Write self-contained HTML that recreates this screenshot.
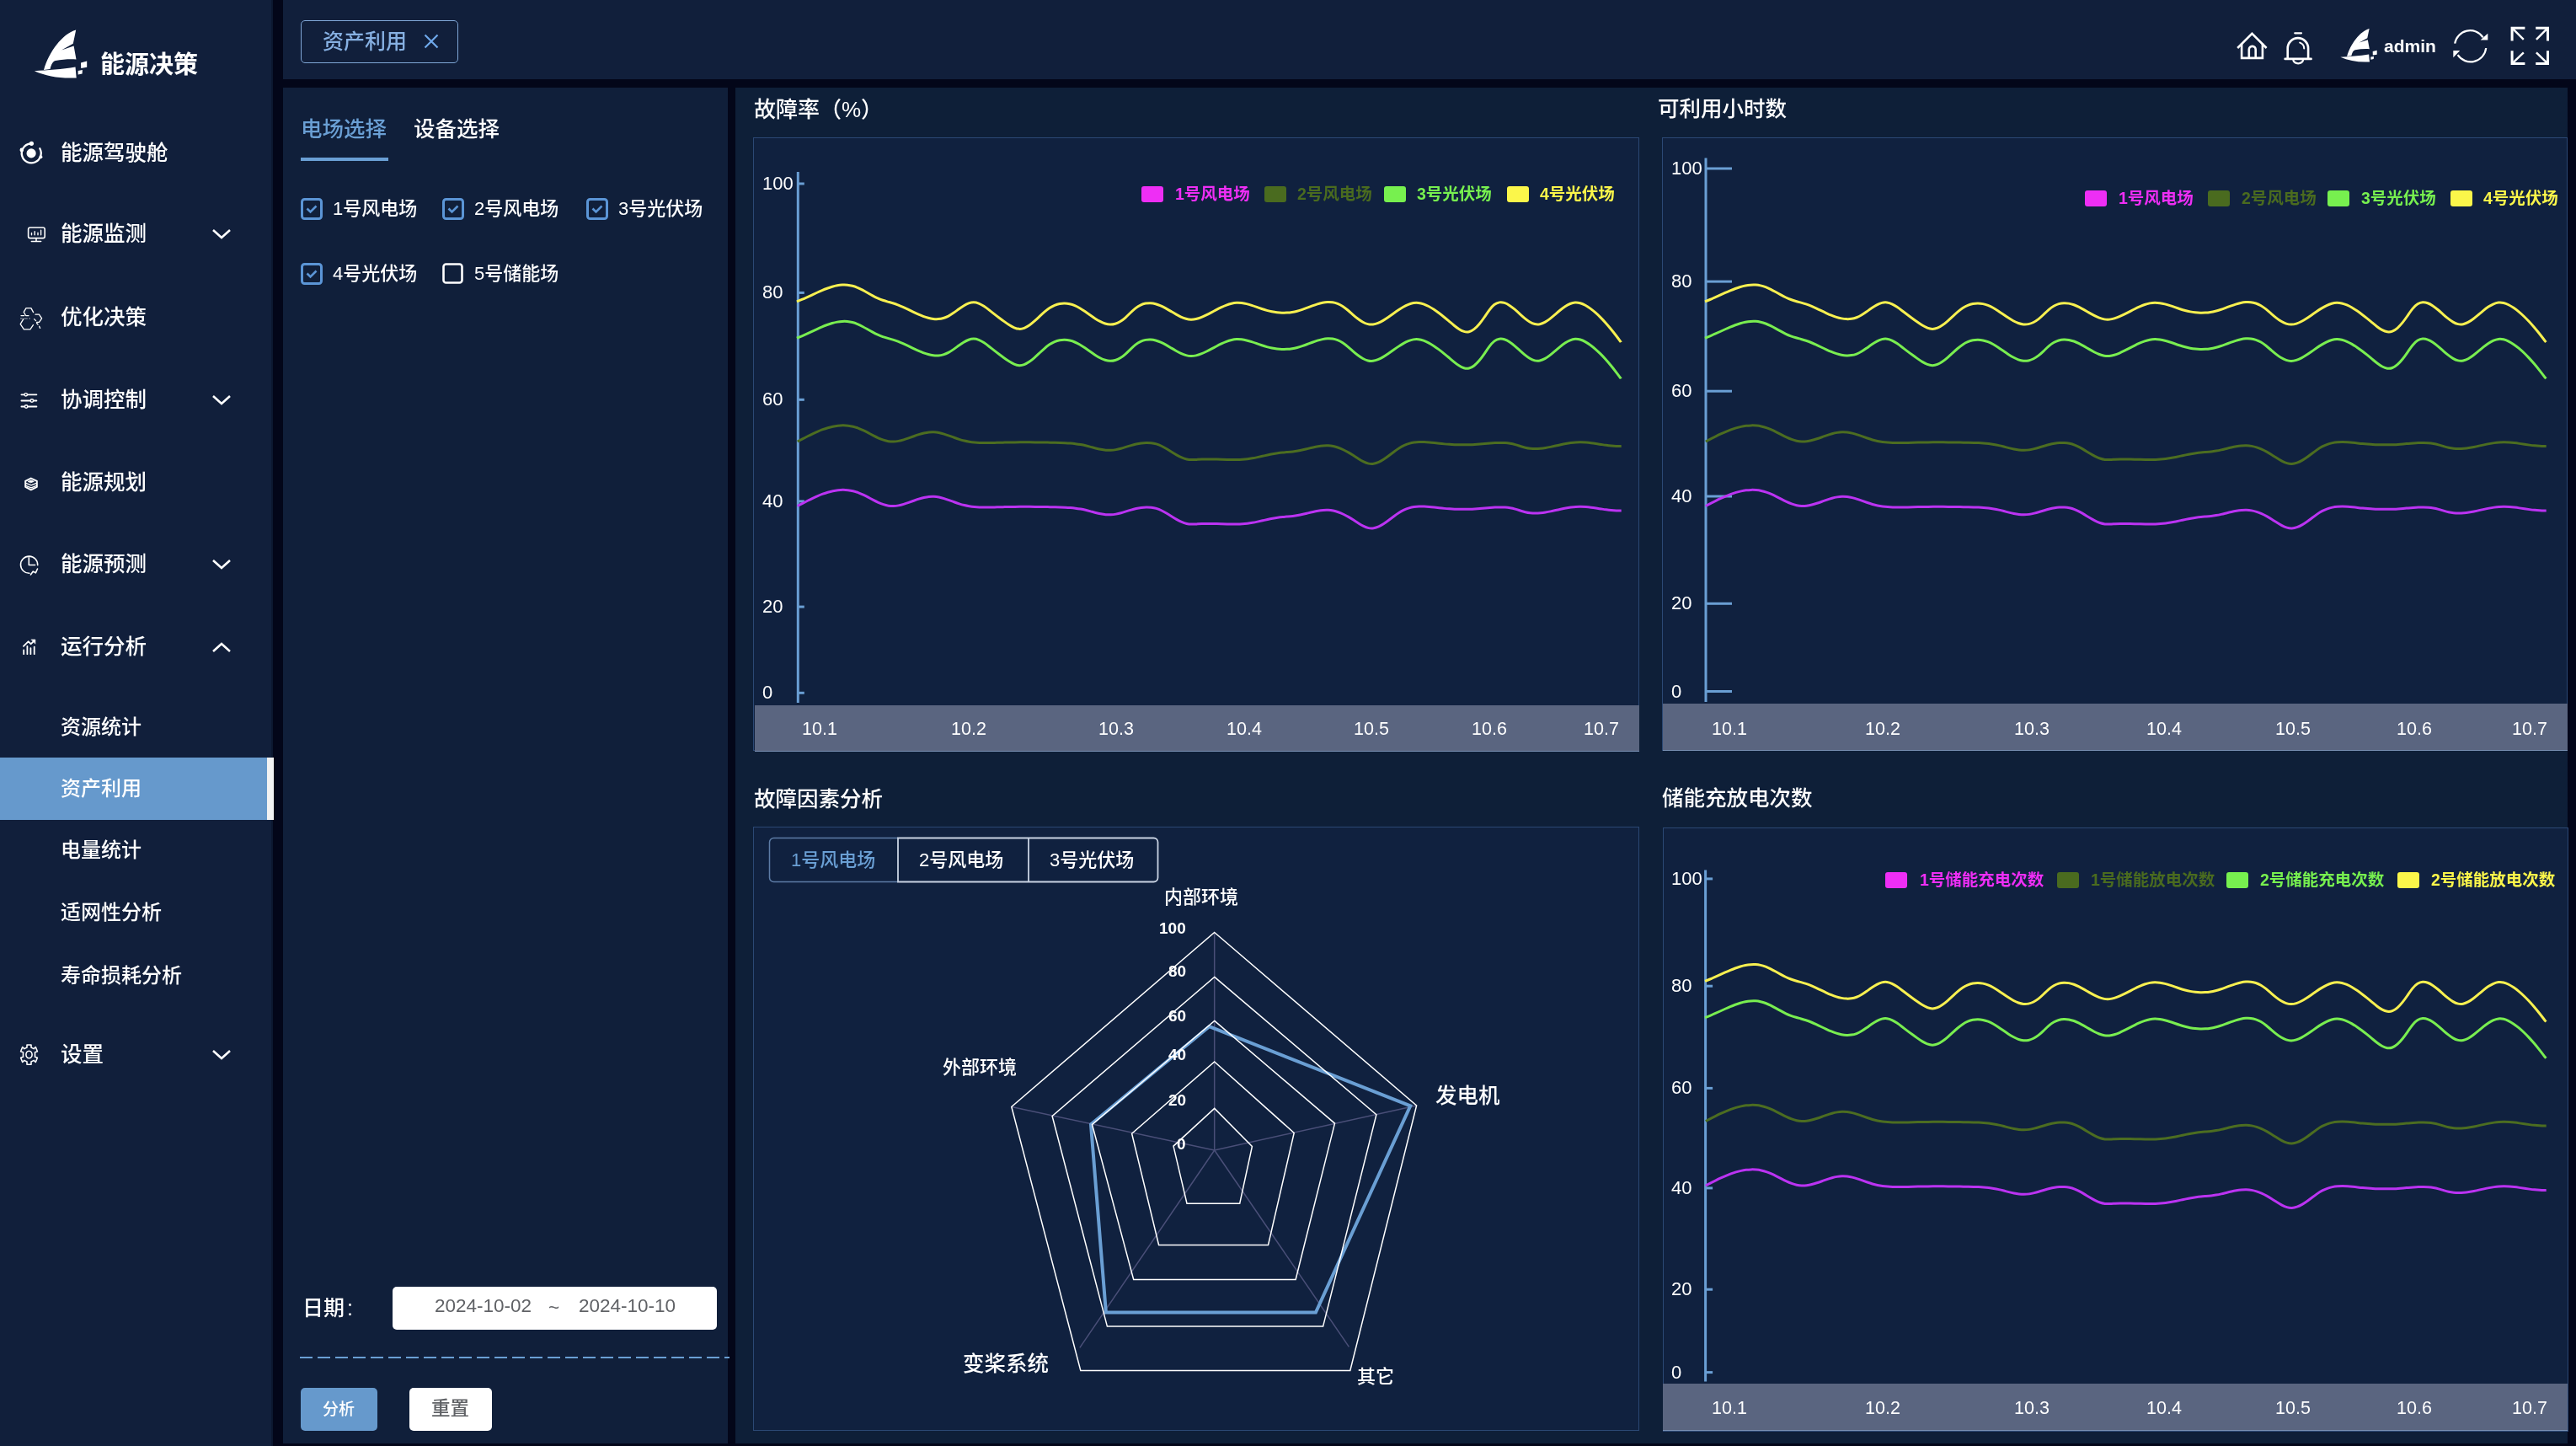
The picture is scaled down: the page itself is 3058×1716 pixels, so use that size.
<!DOCTYPE html>
<html lang="zh-CN"><head><meta charset="utf-8"><title>能源决策 - 资产利用</title>
<style>
*{margin:0;padding:0;box-sizing:border-box}
html,body{width:3058px;height:1716px;overflow:hidden;background:#030619}
body{position:relative;font-family:"Liberation Sans","Noto Sans CJK SC",sans-serif;color:#fff}
.a{position:absolute;white-space:nowrap}
body>div.a{will-change:transform}
</style></head><body>
<div class="a" style="left:0px;top:0px;width:324px;height:1716px;background:#111f3b;border-right:2.5px solid #0c1830"></div>
<div class="a" style="left:336px;top:0px;width:2722px;height:94px;background:#111f3b"></div>
<div class="a" style="left:336px;top:104px;width:528px;height:1609px;background:#101f3a"></div>
<div class="a" style="left:873px;top:104px;width:2175px;height:1609px;background:#0e1f38"></div>
<svg class="a" style="left:0;top:0" width="324" height="110" viewBox="0 0 324 110">
<path fill="#fff" d="M90.2,35.6 C74,40 58,62 52,83 L59.5,82 C61,76 63,72.5 66,72 C74,70.5 83,70 90.5,70.5 L87.6,54.6 L73,59.5 L86.8,51.8 Z"/>
<path fill="#fff" d="M40.8,84.2 C56,83 74,82.5 89.5,79.5 L90.7,92.4 C72,93.5 55,90.5 40.8,84.2 Z"/>
<path fill="#fff" d="M96,74.5 L103.2,72.6 L103.2,79.8 L96.2,81 Z"/>
<path fill="#fff" d="M92.6,84 L97.9,83 L97.6,87.6 L92.6,88.6 Z"/>
</svg>
<div class="a" style="left:118.5px;top:62.5px;font-size:29px;line-height:29px;color:#fff;font-weight:bold;">能源决策</div>
<div class="a" style="left:72.3px;top:169.2px;font-size:25.5px;line-height:25.5px;color:#fff;font-weight:500;">能源驾驶舱</div>
<div class="a" style="left:72.3px;top:265.2px;font-size:25.5px;line-height:25.5px;color:#fff;font-weight:500;">能源监测</div>
<svg class="a" style="left:250px;top:268.0px" width="26" height="20"><path d="M3,5 L13,14 L23,5" fill="none" stroke="#fff" stroke-width="2.6"/></svg>
<div class="a" style="left:72.3px;top:363.9px;font-size:25.5px;line-height:25.5px;color:#fff;font-weight:500;">优化决策</div>
<div class="a" style="left:72.3px;top:461.9px;font-size:25.5px;line-height:25.5px;color:#fff;font-weight:500;">协调控制</div>
<svg class="a" style="left:250px;top:464.7px" width="26" height="20"><path d="M3,5 L13,14 L23,5" fill="none" stroke="#fff" stroke-width="2.6"/></svg>
<div class="a" style="left:72.3px;top:559.9px;font-size:25.5px;line-height:25.5px;color:#fff;font-weight:500;">能源规划</div>
<div class="a" style="left:72.3px;top:657.0px;font-size:25.5px;line-height:25.5px;color:#fff;font-weight:500;">能源预测</div>
<svg class="a" style="left:250px;top:659.7px" width="26" height="20"><path d="M3,5 L13,14 L23,5" fill="none" stroke="#fff" stroke-width="2.6"/></svg>
<div class="a" style="left:72.3px;top:755.1px;font-size:25.5px;line-height:25.5px;color:#fff;font-weight:500;">运行分析</div>
<svg class="a" style="left:250px;top:757.9px" width="26" height="20"><path d="M3,15 L13,6 L23,15" fill="none" stroke="#fff" stroke-width="2.6"/></svg>
<div class="a" style="left:72.3px;top:1238.8px;font-size:25.5px;line-height:25.5px;color:#fff;font-weight:500;">设置</div>
<svg class="a" style="left:250px;top:1241.6px" width="26" height="20"><path d="M3,5 L13,14 L23,5" fill="none" stroke="#fff" stroke-width="2.6"/></svg>
<div class="a" style="left:0px;top:898.5px;width:317px;height:74.3px;background:#6699cc"></div>
<div class="a" style="left:317px;top:898.5px;width:8px;height:74.3px;background:#f2f2f2"></div>
<div class="a" style="left:71.8px;top:850.5px;font-size:24px;line-height:24px;color:#fff;font-weight:500;">资源统计</div>
<div class="a" style="left:71.8px;top:924.0px;font-size:24px;line-height:24px;color:#fff;font-weight:500;">资产利用</div>
<div class="a" style="left:71.8px;top:997.0px;font-size:24px;line-height:24px;color:#fff;font-weight:500;">电量统计</div>
<div class="a" style="left:71.8px;top:1071.3px;font-size:24px;line-height:24px;color:#fff;font-weight:500;">适网性分析</div>
<div class="a" style="left:71.8px;top:1146.3px;font-size:24px;line-height:24px;color:#fff;font-weight:500;">寿命损耗分析</div>
<svg class="a" style="left:0;top:0" width="80" height="1300" viewBox="0 0 80 1300" fill="none" stroke="#fff" stroke-width="2" stroke-linecap="round" stroke-linejoin="round"><path d="M47.3,176.3 A11.5,11.5 0 1 1 35.6,170.5" stroke-width="2.3"/><circle cx="37.1" cy="181.9" r="5.6" fill="#fff" stroke="none"/><circle cx="37.4" cy="170.3" r="2.6" fill="#fff" stroke="none"/><circle cx="25.8" cy="177.9" r="2.3" fill="#fff" stroke="none"/><circle cx="48.4" cy="186.3" r="2" fill="#fff" stroke="none"/><rect x="33.6" y="270" width="19.6" height="12.6" rx="2.2" stroke-width="1.6"/><path d="M37.5,278.8v-2.4M41.2,278.8v-4.2M45,278.8v-2.6M48.6,278.8v-5.6" stroke-width="1.4"/><path d="M37.4,286.5h11.2M43,283v3.5" stroke-width="1.6"/><path d="M39.6,370.6 L36.9,365.6 H31 L28.2,370.3 L30.4,374.3 M25,374.6 H28.6 M30.8,374.6 H34" stroke-width="1.3"/><path d="M42,373.2 H46.4 L49.6,377.8 L46.5,382.4 H43.5 M40.6,378.6 L42.6,380.6 M43.6,383.5 L45,385 M46.6,387.3 L47.6,389.4" stroke-width="1.3"/><path d="M27.8,378.6 L24.2,384.6 L28.4,390.8 H35.9 L39.4,385.6" stroke-width="1.3"/><path d="M24.4,378 H26.4 M29,378 H32.4 M34.6,378 H35.6" stroke-width="1" stroke-opacity="0.6"/><path d="M25.4,468.3H43.4M25.4,475.5H43.4M25.4,482.5H43.4" stroke-width="1.8"/><circle cx="30.7" cy="468.3" r="1.7" fill="#111f3b" stroke-width="1.4"/><circle cx="37.9" cy="475.5" r="1.7" fill="#111f3b" stroke-width="1.4"/><circle cx="31.1" cy="482.5" r="1.7" fill="#111f3b" stroke-width="1.4"/><path d="M36.8,567.6 L43.8,570.9 V577.8 L36.8,581.3 L30.2,577.8 V570.9 Z" stroke-width="2"/><path d="M31.3,573.6 L37.1,575.9 L42.6,573.6 M31.3,576.6 L37.1,578.8 L42.6,576.6" stroke-width="1.3"/><path d="M33.4,571.3 L36.9,569.9 L40.4,571.3 L36.9,572.7 Z" fill="#fff" stroke-width="0.8"/><path d="M44.7,670.6 A10.1,10.1 0 1 0 34.9,680.3" stroke-width="1.6"/><path d="M34.3,661.8 V670.5 H41.6" stroke-width="1.6"/><path d="M36.4,682 L39.3,678.1 L42.3,679.8 L44.5,675" stroke-width="1.6"/><path d="M28.2,776.2v-4.8M32.4,776.2v-9.2M36.4,776.2v-7M40.7,776.2v-8.6" stroke-width="1.8"/><path d="M27.9,766.9 L33.5,761.3 L36.8,764.2 L40.6,760.4" stroke-width="1.8"/><path d="M37.2,759 H41.9 V763.8 Z" fill="#fff" stroke-width="0.6"/><ellipse cx="34.5" cy="1251.5" rx="3.6" ry="4.3" stroke-width="1.6"/><path d="M32,1240 H37 V1243 L40.2,1244.6 L42.3,1242.5 L44.4,1247.8 L41.5,1248.8 V1254.2 L44.4,1255.2 L42.3,1260.5 L40.2,1258.4 L37,1260 V1263.2 H32 V1260 L28.8,1258.4 L26.7,1260.5 L24.6,1255.2 L27.5,1254.2 V1248.8 L24.6,1247.8 L26.7,1242.5 L28.8,1244.6 L32,1243 Z" stroke-width="1.6"/></svg>
<div class="a" style="left:357px;top:24px;width:187px;height:51px;border:1.5px solid #7fa6d6;border-radius:5px"></div>
<div class="a" style="left:383.2px;top:36.7px;font-size:25px;line-height:25px;color:#86b0e2;font-weight:500;">资产利用</div>
<svg class="a" style="left:500px;top:37px" width="24" height="24"><path d="M4.5,4.5 L19.5,19.5 M19.5,4.5 L4.5,19.5" stroke="#6fa8ea" stroke-width="2.2"/></svg>
<svg class="a" style="left:2640px;top:20px" width="418" height="70" viewBox="2640 20 418 70" fill="none" stroke="#fff" stroke-width="2.6" stroke-linejoin="miter"><path d="M2656.2,57 L2673.4,39.9 L2690.6,57"/><path d="M2661.1,51.5 V68.9 H2685.9 V51.5"/><path d="M2669.8,68.9 V58.8 a3.95,3.95 0 0 1 7.9,0 V68.9"/><path d="M2724.2,39.3 h7.8" stroke-width="2.2" stroke-linecap="round"/><path d="M2712.6,69.9 h31" stroke-linecap="round"/><path d="M2715.7,69 V57.3 a12.2,12.2 0 0 1 24.4,0 V69"/><path d="M2722.4,71 a5.8,4.3 0 0 0 11.6,0" stroke-width="2.3"/><path d="M2730.2,50.6 a7.3,7.3 0 0 1 5,7" stroke-width="2" stroke-linecap="round"/></svg>
<svg class="a" style="left:2775px;top:30px" width="50" height="46" viewBox="36 31 72 64">
<path fill="#fff" d="M90.2,35.6 C74,40 58,62 52,83 L59.5,82 C61,76 63,72.5 66,72 C74,70.5 83,70 90.5,70.5 L87.6,54.6 L73,59.5 L86.8,51.8 Z"/>
<path fill="#fff" d="M40.8,84.2 C56,83 74,82.5 89.5,79.5 L90.7,92.4 C72,93.5 55,90.5 40.8,84.2 Z"/>
<path fill="#fff" d="M96,74.5 L103.2,72.6 L103.2,79.8 L96.2,81 Z"/>
<path fill="#fff" d="M92.6,84 L97.9,83 L97.6,87.6 L92.6,88.6 Z"/>
</svg>
<div class="a" style="left:2829.8px;top:44.3px;font-size:21px;line-height:21px;color:#fff;font-weight:bold;">admin</div>
<svg class="a" style="left:2900px;top:25px" width="150" height="60" viewBox="2900 25 150 60" fill="none" stroke="#fff" stroke-width="2.2">
<path d="M2914.2,51.6 A18.4,18.4 0 0 1 2947.6,44.3"/><path d="M2951.2,57 A18.4,18.4 0 0 1 2917.6,65.2"/>
<path d="M2944.6,47.6 L2953.3,47.6 L2953.3,39.8 Z" fill="#fff" stroke="none"/>
<path d="M2912.3,60 L2920.2,60 L2912.3,68.3 Z" fill="#fff" stroke="none"/>
<g stroke-width="3" stroke-linecap="butt"><path d="M2982.1,48.6 V33.2 H2997.4"/><path d="M2983,34.1 L2995.8,46.8" stroke-width="2.4"/>
<path d="M3024.5,48.6 V33.2 H3010.2"/><path d="M3023.6,34.1 L3010.9,46.8" stroke-width="2.4"/>
<path d="M2982.1,60.2 V75.5 H2997.4"/><path d="M2983,74.6 L2995.8,62.3" stroke-width="2.4"/>
<path d="M3024.5,60.2 V75.5 H3010.2"/><path d="M3023.6,74.6 L3010.9,62.3" stroke-width="2.4"/></g>
</svg>
<div class="a" style="left:357.4px;top:141.2px;font-size:25.5px;line-height:25.5px;color:#6a9fd4;font-weight:500;">电场选择</div>
<div class="a" style="left:491.2px;top:141.2px;font-size:25.5px;line-height:25.5px;color:#fff;font-weight:500;">设备选择</div>
<div class="a" style="left:357px;top:187px;width:104px;height:4px;background:#6a9fd4"></div>
<svg class="a" style="left:357px;top:235px" width="26" height="26"><rect x="1.5" y="1.5" width="23" height="23" rx="3" fill="none" stroke="#5b95d6" stroke-width="3"/><path d="M7.5,12.5 L11.5,16.5 L18.5,9.5" fill="none" stroke="#5b95d6" stroke-width="2.6"/></svg>
<div class="a" style="left:394.5px;top:236.8px;font-size:22px;line-height:22px;color:#fff;font-weight:500;">1号风电场</div>
<svg class="a" style="left:525px;top:235px" width="26" height="26"><rect x="1.5" y="1.5" width="23" height="23" rx="3" fill="none" stroke="#5b95d6" stroke-width="3"/><path d="M7.5,12.5 L11.5,16.5 L18.5,9.5" fill="none" stroke="#5b95d6" stroke-width="2.6"/></svg>
<div class="a" style="left:562.5px;top:236.8px;font-size:22px;line-height:22px;color:#fff;font-weight:500;">2号风电场</div>
<svg class="a" style="left:696px;top:235px" width="26" height="26"><rect x="1.5" y="1.5" width="23" height="23" rx="3" fill="none" stroke="#5b95d6" stroke-width="3"/><path d="M7.5,12.5 L11.5,16.5 L18.5,9.5" fill="none" stroke="#5b95d6" stroke-width="2.6"/></svg>
<div class="a" style="left:733.5px;top:236.8px;font-size:22px;line-height:22px;color:#fff;font-weight:500;">3号光伏场</div>
<svg class="a" style="left:357px;top:312px" width="26" height="26"><rect x="1.5" y="1.5" width="23" height="23" rx="3" fill="none" stroke="#5b95d6" stroke-width="3"/><path d="M7.5,12.5 L11.5,16.5 L18.5,9.5" fill="none" stroke="#5b95d6" stroke-width="2.6"/></svg>
<div class="a" style="left:394.5px;top:313.8px;font-size:22px;line-height:22px;color:#fff;font-weight:500;">4号光伏场</div>
<svg class="a" style="left:525px;top:312px" width="26" height="26"><rect x="1.5" y="1.5" width="22" height="22" rx="3" fill="none" stroke="#fff" stroke-width="2.6"/></svg>
<div class="a" style="left:562.5px;top:313.8px;font-size:22px;line-height:22px;color:#fff;font-weight:500;">5号储能场</div>
<div class="a" style="left:359.4px;top:1539.5px;font-size:25px;line-height:25px;color:#fff;font-weight:500;">日期<span style='margin-left:3px'>:</span></div>
<div class="a" style="left:466px;top:1527px;width:385px;height:51px;background:#fff;border-radius:5px"></div>
<div class="a" style="left:516.0px;top:1539.2px;font-size:22.5px;line-height:22.5px;color:#606266;font-weight:500;">2024-10-02</div>
<div class="a" style="left:650.7px;top:1541.2px;font-size:22.5px;line-height:22.5px;color:#606266;font-weight:500;">~</div>
<div class="a" style="left:686.6px;top:1539.2px;font-size:22.5px;line-height:22.5px;color:#606266;font-weight:500;">2024-10-10</div>
<svg class="a" style="left:336px;top:1605px" width="530" height="10"><line x1="20" y1="6" x2="530" y2="6" stroke="#6a9fd4" stroke-width="2" stroke-dasharray="15,6"/></svg>
<div class="a" style="left:357px;top:1647px;width:91px;height:51px;background:#6699cc;border-radius:5px"></div>
<div class="a" style="left:382.5px;top:1662.5px;font-size:19px;line-height:19px;color:#fff;font-weight:500;">分析</div>
<div class="a" style="left:486px;top:1647px;width:98px;height:51px;background:#fff;border-radius:5px"></div>
<div class="a" style="left:512.1px;top:1661.2px;font-size:22.5px;line-height:22.5px;color:#606266;font-weight:500;">重置</div>
<div class="a" style="left:894.6px;top:117.2px;font-size:26px;line-height:26px;color:#fff;font-weight:500;">故障率（%）</div>
<div class="a" style="left:894px;top:163px;width:1052px;height:728px;background:#10213f;border:1px solid #2b4874"></div>
<div class="a" style="left:895.5px;top:836.5px;width:1050.0px;height:54.5px;background:#5a6580;border-bottom:1.5px solid #7990b3"></div>
<div class="a" style="left:1354.7px;top:220.8px;width:26px;height:19px;background:#ee2ef5;border-radius:3px"></div>
<div class="a" style="left:1394.6px;top:220.9px;font-size:19.5px;line-height:19.5px;color:#ee2ef5;font-weight:bold;">1号风电场</div>
<div class="a" style="left:1501px;top:220.8px;width:26px;height:19px;background:#4a6b1f;border-radius:3px"></div>
<div class="a" style="left:1540.0px;top:220.9px;font-size:19.5px;line-height:19.5px;color:#4a6b1f;font-weight:bold;">2号风电场</div>
<div class="a" style="left:1642.6px;top:220.8px;width:26px;height:19px;background:#77f04f;border-radius:3px"></div>
<div class="a" style="left:1682.0px;top:220.9px;font-size:19.5px;line-height:19.5px;color:#77f04f;font-weight:bold;">3号光伏场</div>
<div class="a" style="left:1788.7px;top:220.8px;width:26px;height:19px;background:#fbf64a;border-radius:3px"></div>
<div class="a" style="left:1828.0px;top:220.9px;font-size:19.5px;line-height:19.5px;color:#fbf64a;font-weight:bold;">4号光伏场</div>
<div class="a" style="left:905.0px;top:207.0px;font-size:22px;line-height:22px;color:#fff;font-weight:500;">100</div>
<div class="a" style="left:905.0px;top:336.4px;font-size:22px;line-height:22px;color:#fff;font-weight:500;">80</div>
<div class="a" style="left:905.0px;top:463.3px;font-size:22px;line-height:22px;color:#fff;font-weight:500;">60</div>
<div class="a" style="left:905.0px;top:583.9px;font-size:22px;line-height:22px;color:#fff;font-weight:500;">40</div>
<div class="a" style="left:905.0px;top:709.1px;font-size:22px;line-height:22px;color:#fff;font-weight:500;">20</div>
<div class="a" style="left:905.0px;top:811.3px;font-size:22px;line-height:22px;color:#fff;font-weight:500;">0</div>
<div class="a" style="left:952.4px;top:855.2px;font-size:21.5px;line-height:21.5px;color:#fff;font-weight:500;">10.1</div>
<div class="a" style="left:1129.3px;top:855.2px;font-size:21.5px;line-height:21.5px;color:#fff;font-weight:500;">10.2</div>
<div class="a" style="left:1303.8px;top:855.2px;font-size:21.5px;line-height:21.5px;color:#fff;font-weight:500;">10.3</div>
<div class="a" style="left:1456.2px;top:855.2px;font-size:21.5px;line-height:21.5px;color:#fff;font-weight:500;">10.4</div>
<div class="a" style="left:1607.2px;top:855.2px;font-size:21.5px;line-height:21.5px;color:#fff;font-weight:500;">10.5</div>
<div class="a" style="left:1747.4px;top:855.2px;font-size:21.5px;line-height:21.5px;color:#fff;font-weight:500;">10.6</div>
<div class="a" style="left:1880.4px;top:855.2px;font-size:21.5px;line-height:21.5px;color:#fff;font-weight:500;">10.7</div>
<div class="a" style="left:1968.0px;top:117.2px;font-size:25.5px;line-height:25.5px;color:#fff;font-weight:500;">可利用小时数</div>
<div class="a" style="left:1973px;top:163px;width:1075px;height:728px;background:#10213f;border:1px solid #2b4874"></div>
<div class="a" style="left:1973.8px;top:835px;width:1073.7px;height:56px;background:#5a6580;border-bottom:1.5px solid #7990b3"></div>
<div class="a" style="left:2474.6px;top:226.2px;width:26px;height:19px;background:#ee2ef5;border-radius:3px"></div>
<div class="a" style="left:2514.7px;top:226.2px;font-size:19.5px;line-height:19.5px;color:#ee2ef5;font-weight:bold;">1号风电场</div>
<div class="a" style="left:2620.9px;top:226.2px;width:26px;height:19px;background:#4a6b1f;border-radius:3px"></div>
<div class="a" style="left:2660.5px;top:226.2px;font-size:19.5px;line-height:19.5px;color:#4a6b1f;font-weight:bold;">2号风电场</div>
<div class="a" style="left:2762.9px;top:226.2px;width:26px;height:19px;background:#77f04f;border-radius:3px"></div>
<div class="a" style="left:2802.5px;top:226.2px;font-size:19.5px;line-height:19.5px;color:#77f04f;font-weight:bold;">3号光伏场</div>
<div class="a" style="left:2909.2px;top:226.2px;width:26px;height:19px;background:#fbf64a;border-radius:3px"></div>
<div class="a" style="left:2947.6px;top:226.2px;font-size:19.5px;line-height:19.5px;color:#fbf64a;font-weight:bold;">4号光伏场</div>
<div class="a" style="left:1984.0px;top:189.0px;font-size:22px;line-height:22px;color:#fff;font-weight:500;">100</div>
<div class="a" style="left:1984.0px;top:323.1px;font-size:22px;line-height:22px;color:#fff;font-weight:500;">80</div>
<div class="a" style="left:1984.0px;top:453.2px;font-size:22px;line-height:22px;color:#fff;font-weight:500;">60</div>
<div class="a" style="left:1984.0px;top:578.0px;font-size:22px;line-height:22px;color:#fff;font-weight:500;">40</div>
<div class="a" style="left:1984.0px;top:705.3px;font-size:22px;line-height:22px;color:#fff;font-weight:500;">20</div>
<div class="a" style="left:1984.0px;top:809.5px;font-size:22px;line-height:22px;color:#fff;font-weight:500;">0</div>
<div class="a" style="left:2032.1px;top:854.8px;font-size:21.5px;line-height:21.5px;color:#fff;font-weight:500;">10.1</div>
<div class="a" style="left:2213.6px;top:854.8px;font-size:21.5px;line-height:21.5px;color:#fff;font-weight:500;">10.2</div>
<div class="a" style="left:2390.8px;top:854.8px;font-size:21.5px;line-height:21.5px;color:#fff;font-weight:500;">10.3</div>
<div class="a" style="left:2547.7px;top:854.8px;font-size:21.5px;line-height:21.5px;color:#fff;font-weight:500;">10.4</div>
<div class="a" style="left:2701.4px;top:854.8px;font-size:21.5px;line-height:21.5px;color:#fff;font-weight:500;">10.5</div>
<div class="a" style="left:2845.3px;top:854.8px;font-size:21.5px;line-height:21.5px;color:#fff;font-weight:500;">10.6</div>
<div class="a" style="left:2981.5px;top:854.8px;font-size:21.5px;line-height:21.5px;color:#fff;font-weight:500;">10.7</div>
<div class="a" style="left:894.9px;top:935.5px;font-size:25.5px;line-height:25.5px;color:#fff;font-weight:500;">故障因素分析</div>
<div class="a" style="left:894px;top:981px;width:1052px;height:717px;background:#10213f;border:1px solid #2b4874"></div>
<div class="a" style="left:1973.0px;top:935.1px;font-size:25.5px;line-height:25.5px;color:#fff;font-weight:500;">储能充放电次数</div>
<div class="a" style="left:1973.5px;top:981.5px;width:1074.5px;height:716.5px;background:#10213f;border:1px solid #2b4874"></div>
<div class="a" style="left:1973.8px;top:1641.6px;width:1073.7px;height:55.90000000000009px;background:#5a6580;border-bottom:1.5px solid #7990b3"></div>
<div class="a" style="left:2237.9px;top:1034.8px;width:26px;height:19px;background:#ee2ef5;border-radius:3px"></div>
<div class="a" style="left:2278.5px;top:1034.8px;font-size:19.5px;line-height:19.5px;color:#ee2ef5;font-weight:bold;">1号储能充电次数</div>
<div class="a" style="left:2441.9px;top:1034.8px;width:26px;height:19px;background:#4a6b1f;border-radius:3px"></div>
<div class="a" style="left:2481.9px;top:1034.8px;font-size:19.5px;line-height:19.5px;color:#4a6b1f;font-weight:bold;">1号储能放电次数</div>
<div class="a" style="left:2642.9px;top:1034.8px;width:26px;height:19px;background:#77f04f;border-radius:3px"></div>
<div class="a" style="left:2682.6px;top:1034.8px;font-size:19.5px;line-height:19.5px;color:#77f04f;font-weight:bold;">2号储能充电次数</div>
<div class="a" style="left:2846.2px;top:1034.8px;width:26px;height:19px;background:#fbf64a;border-radius:3px"></div>
<div class="a" style="left:2885.9px;top:1034.8px;font-size:19.5px;line-height:19.5px;color:#fbf64a;font-weight:bold;">2号储能放电次数</div>
<div class="a" style="left:1984.0px;top:1031.9px;font-size:22px;line-height:22px;color:#fff;font-weight:500;">100</div>
<div class="a" style="left:1984.0px;top:1159.2px;font-size:22px;line-height:22px;color:#fff;font-weight:500;">80</div>
<div class="a" style="left:1984.0px;top:1280.4px;font-size:22px;line-height:22px;color:#fff;font-weight:500;">60</div>
<div class="a" style="left:1984.0px;top:1398.9px;font-size:22px;line-height:22px;color:#fff;font-weight:500;">40</div>
<div class="a" style="left:1984.0px;top:1519.2px;font-size:22px;line-height:22px;color:#fff;font-weight:500;">20</div>
<div class="a" style="left:1984.0px;top:1617.6px;font-size:22px;line-height:22px;color:#fff;font-weight:500;">0</div>
<div class="a" style="left:2032.1px;top:1661.2px;font-size:21.5px;line-height:21.5px;color:#fff;font-weight:500;">10.1</div>
<div class="a" style="left:2213.6px;top:1661.2px;font-size:21.5px;line-height:21.5px;color:#fff;font-weight:500;">10.2</div>
<div class="a" style="left:2390.8px;top:1661.2px;font-size:21.5px;line-height:21.5px;color:#fff;font-weight:500;">10.3</div>
<div class="a" style="left:2547.7px;top:1661.2px;font-size:21.5px;line-height:21.5px;color:#fff;font-weight:500;">10.4</div>
<div class="a" style="left:2701.4px;top:1661.2px;font-size:21.5px;line-height:21.5px;color:#fff;font-weight:500;">10.5</div>
<div class="a" style="left:2845.3px;top:1661.2px;font-size:21.5px;line-height:21.5px;color:#fff;font-weight:500;">10.6</div>
<div class="a" style="left:2981.5px;top:1661.2px;font-size:21.5px;line-height:21.5px;color:#fff;font-weight:500;">10.7</div>
<svg class="a" style="left:0;top:0" width="3058" height="1716"><line x1="947.3" y1="204" x2="947.3" y2="834" stroke="#6a9fd4" stroke-width="3"/><line x1="947.3" y1="218" x2="954.8" y2="218" stroke="#6a9fd4" stroke-width="3"/><line x1="947.3" y1="347.4" x2="954.8" y2="347.4" stroke="#6a9fd4" stroke-width="3"/><line x1="947.3" y1="474.3" x2="954.8" y2="474.3" stroke="#6a9fd4" stroke-width="3"/><line x1="947.3" y1="594.9" x2="954.8" y2="594.9" stroke="#6a9fd4" stroke-width="3"/><line x1="947.3" y1="720.1" x2="954.8" y2="720.1" stroke="#6a9fd4" stroke-width="3"/><line x1="947.3" y1="822.3" x2="954.8" y2="822.3" stroke="#6a9fd4" stroke-width="3"/><line x1="2025" y1="187.5" x2="2025" y2="833" stroke="#6a9fd4" stroke-width="3"/><line x1="2025" y1="200" x2="2056" y2="200" stroke="#6a9fd4" stroke-width="3"/><line x1="2025" y1="334.1" x2="2056" y2="334.1" stroke="#6a9fd4" stroke-width="3"/><line x1="2025" y1="464.2" x2="2056" y2="464.2" stroke="#6a9fd4" stroke-width="3"/><line x1="2025" y1="589" x2="2056" y2="589" stroke="#6a9fd4" stroke-width="3"/><line x1="2025" y1="716.3" x2="2056" y2="716.3" stroke="#6a9fd4" stroke-width="3"/><line x1="2025" y1="820.5" x2="2056" y2="820.5" stroke="#6a9fd4" stroke-width="3"/><line x1="2024.6" y1="1032.5" x2="2024.6" y2="1639.6" stroke="#6a9fd4" stroke-width="3"/><line x1="2024.6" y1="1042.9" x2="2033.1" y2="1042.9" stroke="#6a9fd4" stroke-width="3"/><line x1="2024.6" y1="1170.2" x2="2033.1" y2="1170.2" stroke="#6a9fd4" stroke-width="3"/><line x1="2024.6" y1="1291.4" x2="2033.1" y2="1291.4" stroke="#6a9fd4" stroke-width="3"/><line x1="2024.6" y1="1409.9" x2="2033.1" y2="1409.9" stroke="#6a9fd4" stroke-width="3"/><line x1="2024.6" y1="1530.2" x2="2033.1" y2="1530.2" stroke="#6a9fd4" stroke-width="3"/><line x1="2024.6" y1="1628.6" x2="2033.1" y2="1628.6" stroke="#6a9fd4" stroke-width="3"/><path d="M946.70,600.50 C948.7,599.44 950.7,598.38 952.7,597.33 C954.7,596.28 956.7,595.24 958.7,594.23 C960.7,593.22 962.7,592.24 964.7,591.29 C966.7,590.35 968.7,589.44 970.7,588.59 C972.7,587.74 974.7,586.94 976.7,586.20 C978.7,585.47 980.7,584.80 982.7,584.21 C984.7,583.62 986.7,583.11 988.7,582.69 C990.7,582.27 992.7,581.95 994.7,581.72 C996.7,581.50 998.7,581.37 1000.7,581.36 C1002.7,581.35 1004.7,581.45 1006.7,581.67 C1008.7,581.90 1010.7,582.24 1012.7,582.72 C1014.7,583.20 1016.7,583.81 1018.7,584.56 C1020.7,585.31 1022.7,586.19 1024.7,587.15 C1026.7,588.11 1028.7,589.14 1030.7,590.19 C1032.7,591.24 1034.7,592.31 1036.7,593.34 C1038.7,594.37 1040.7,595.37 1042.7,596.27 C1044.7,597.18 1046.7,597.99 1048.7,598.66 C1050.7,599.33 1052.7,599.85 1054.7,600.19 C1056.7,600.53 1058.7,600.66 1060.7,600.59 C1062.7,600.52 1064.7,600.26 1066.7,599.87 C1068.7,599.48 1070.7,598.96 1072.7,598.36 C1074.7,597.77 1076.7,597.10 1078.7,596.39 C1080.7,595.69 1082.7,594.96 1084.7,594.24 C1086.7,593.53 1088.7,592.82 1090.7,592.18 C1092.7,591.54 1094.7,590.96 1096.7,590.48 C1098.7,590.00 1100.7,589.62 1102.7,589.40 C1104.7,589.17 1106.7,589.10 1108.7,589.21 C1110.7,589.32 1112.7,589.61 1114.7,590.02 C1116.7,590.42 1118.7,590.96 1120.7,591.57 C1122.7,592.18 1124.7,592.86 1126.7,593.58 C1128.7,594.29 1130.7,595.03 1132.7,595.76 C1134.7,596.48 1136.7,597.19 1138.7,597.82 C1140.7,598.46 1142.7,599.02 1144.7,599.50 C1146.7,599.97 1148.7,600.36 1150.7,600.69 C1152.7,601.01 1154.7,601.26 1156.7,601.46 C1158.7,601.66 1160.7,601.80 1162.7,601.89 C1164.7,601.99 1166.7,602.04 1168.7,602.06 C1170.7,602.08 1172.7,602.07 1174.7,602.04 C1176.7,602.01 1178.7,601.97 1180.7,601.91 C1182.7,601.86 1184.7,601.79 1186.7,601.74 C1188.7,601.68 1190.7,601.64 1192.7,601.59 C1194.7,601.55 1196.7,601.52 1198.7,601.49 C1200.7,601.46 1202.7,601.43 1204.7,601.41 C1206.7,601.39 1208.7,601.38 1210.7,601.37 C1212.7,601.36 1214.7,601.36 1216.7,601.36 C1218.7,601.36 1220.7,601.36 1222.7,601.37 C1224.7,601.38 1226.7,601.39 1228.7,601.41 C1230.7,601.42 1232.7,601.44 1234.7,601.46 C1236.7,601.48 1238.7,601.51 1240.7,601.54 C1242.7,601.57 1244.7,601.60 1246.7,601.63 C1248.7,601.66 1250.7,601.69 1252.7,601.73 C1254.7,601.77 1256.7,601.82 1258.7,601.89 C1260.7,601.95 1262.7,602.03 1264.7,602.14 C1266.7,602.25 1268.7,602.39 1270.7,602.56 C1272.7,602.73 1274.7,602.94 1276.7,603.19 C1278.7,603.44 1280.7,603.74 1282.7,604.09 C1284.7,604.44 1286.7,604.84 1288.7,605.31 C1290.7,605.78 1292.7,606.30 1294.7,606.84 C1296.7,607.37 1298.7,607.92 1300.7,608.42 C1302.7,608.93 1304.7,609.39 1306.7,609.78 C1308.7,610.16 1310.7,610.46 1312.7,610.64 C1314.7,610.82 1316.7,610.89 1318.7,610.81 C1320.7,610.72 1322.7,610.48 1324.7,610.10 C1326.7,609.73 1328.7,609.24 1330.7,608.69 C1332.7,608.14 1334.7,607.52 1336.7,606.91 C1338.7,606.29 1340.7,605.68 1342.7,605.11 C1344.7,604.55 1346.7,604.02 1348.7,603.56 C1350.7,603.10 1352.7,602.72 1354.7,602.43 C1356.7,602.15 1358.7,601.96 1360.7,601.91 C1362.7,601.86 1364.7,601.94 1366.7,602.18 C1368.7,602.42 1370.7,602.82 1372.7,603.41 C1374.7,604.01 1376.7,604.81 1378.7,605.77 C1380.7,606.73 1382.7,607.85 1384.7,609.04 C1386.7,610.23 1388.7,611.48 1390.7,612.73 C1392.7,613.98 1394.7,615.22 1396.7,616.36 C1398.7,617.50 1400.7,618.56 1402.7,619.43 C1404.7,620.31 1406.7,621.01 1408.7,621.46 C1410.7,621.91 1412.7,622.08 1414.7,622.11 C1416.7,622.14 1418.7,622.02 1420.7,621.88 C1422.7,621.75 1424.7,621.61 1426.7,621.53 C1428.7,621.45 1430.7,621.41 1432.7,621.40 C1434.7,621.39 1436.7,621.40 1438.7,621.44 C1440.7,621.48 1442.7,621.53 1444.7,621.59 C1446.7,621.65 1448.7,621.72 1450.7,621.79 C1452.7,621.85 1454.7,621.91 1456.7,621.96 C1458.7,622.01 1460.7,622.04 1462.7,622.05 C1464.7,622.06 1466.7,622.04 1468.7,621.99 C1470.7,621.93 1472.7,621.84 1474.7,621.71 C1476.7,621.57 1478.7,621.39 1480.7,621.15 C1482.7,620.90 1484.7,620.60 1486.7,620.26 C1488.7,619.91 1490.7,619.52 1492.7,619.11 C1494.7,618.69 1496.7,618.25 1498.7,617.81 C1500.7,617.37 1502.7,616.92 1504.7,616.49 C1506.7,616.05 1508.7,615.63 1510.7,615.25 C1512.7,614.86 1514.7,614.51 1516.7,614.21 C1518.7,613.91 1520.7,613.68 1522.7,613.49 C1524.7,613.30 1526.7,613.16 1528.7,613.01 C1530.7,612.86 1532.7,612.70 1534.7,612.47 C1536.7,612.25 1538.7,611.95 1540.7,611.58 C1542.7,611.21 1544.7,610.77 1546.7,610.31 C1548.7,609.84 1550.7,609.34 1552.7,608.85 C1554.7,608.36 1556.7,607.87 1558.7,607.42 C1560.7,606.97 1562.7,606.56 1564.7,606.22 C1566.7,605.88 1568.7,605.61 1570.7,605.45 C1572.7,605.29 1574.7,605.24 1576.7,605.33 C1578.7,605.42 1580.7,605.65 1582.7,606.05 C1584.7,606.46 1586.7,607.03 1588.7,607.73 C1590.7,608.44 1592.7,609.29 1594.7,610.24 C1596.7,611.20 1598.7,612.27 1600.7,613.41 C1602.7,614.56 1604.7,615.79 1606.7,617.08 C1608.7,618.37 1610.7,619.72 1612.7,620.99 C1614.7,622.26 1616.7,623.46 1618.7,624.45 C1620.7,625.43 1622.7,626.20 1624.7,626.62 C1626.7,627.05 1628.7,627.08 1630.7,626.77 C1632.7,626.45 1634.7,625.80 1636.7,624.90 C1638.7,624.00 1640.7,622.86 1642.7,621.56 C1644.7,620.26 1646.7,618.80 1648.7,617.29 C1650.7,615.78 1652.7,614.21 1654.7,612.70 C1656.7,611.18 1658.7,609.73 1660.7,608.44 C1662.7,607.15 1664.7,606.04 1666.7,605.13 C1668.7,604.22 1670.7,603.49 1672.7,602.91 C1674.7,602.33 1676.7,601.90 1678.7,601.60 C1680.7,601.30 1682.7,601.12 1684.7,601.03 C1686.7,600.95 1688.7,600.96 1690.7,601.04 C1692.7,601.12 1694.7,601.27 1696.7,601.45 C1698.7,601.63 1700.7,601.86 1702.7,602.09 C1704.7,602.32 1706.7,602.56 1708.7,602.78 C1710.7,603.01 1712.7,603.21 1714.7,603.38 C1716.7,603.56 1718.7,603.71 1720.7,603.84 C1722.7,603.97 1724.7,604.08 1726.7,604.16 C1728.7,604.24 1730.7,604.30 1732.7,604.33 C1734.7,604.37 1736.7,604.38 1738.7,604.36 C1740.7,604.35 1742.7,604.31 1744.7,604.25 C1746.7,604.19 1748.7,604.10 1750.7,603.99 C1752.7,603.88 1754.7,603.74 1756.7,603.58 C1758.7,603.42 1760.7,603.24 1762.7,603.05 C1764.7,602.86 1766.7,602.67 1768.7,602.50 C1770.7,602.34 1772.7,602.19 1774.7,602.08 C1776.7,601.97 1778.7,601.90 1780.7,601.90 C1782.7,601.90 1784.7,601.96 1786.7,602.10 C1788.7,602.25 1790.7,602.48 1792.7,602.81 C1794.7,603.15 1796.7,603.60 1798.7,604.16 C1800.7,604.71 1802.7,605.36 1804.7,605.98 C1806.7,606.60 1808.7,607.21 1810.7,607.70 C1812.7,608.19 1814.7,608.54 1816.7,608.75 C1818.7,608.97 1820.7,609.07 1822.7,609.06 C1824.7,609.05 1826.7,608.94 1828.7,608.75 C1830.7,608.56 1832.7,608.30 1834.7,607.98 C1836.7,607.65 1838.7,607.28 1840.7,606.87 C1842.7,606.47 1844.7,606.03 1846.7,605.58 C1848.7,605.14 1850.7,604.69 1852.7,604.25 C1854.7,603.82 1856.7,603.40 1858.7,603.02 C1860.7,602.64 1862.7,602.31 1864.7,602.03 C1866.7,601.76 1868.7,601.55 1870.7,601.43 C1872.7,601.30 1874.7,601.27 1876.7,601.31 C1878.7,601.35 1880.7,601.46 1882.7,601.62 C1884.7,601.79 1886.7,602.00 1888.7,602.25 C1890.7,602.49 1892.7,602.77 1894.7,603.06 C1896.7,603.35 1898.7,603.66 1900.7,603.96 C1902.7,604.25 1904.7,604.55 1906.7,604.81 C1908.7,605.08 1910.7,605.32 1912.7,605.51 C1914.7,605.71 1916.7,605.85 1918.7,605.94 C1920.7,606.02 1922.7,606.04 1924.7,605.98" fill="none" stroke="#bb33f2" stroke-width="3" stroke-linejoin="round"/><path d="M946.70,524.00 C948.7,522.94 950.7,521.88 952.7,520.83 C954.7,519.78 956.7,518.74 958.7,517.73 C960.7,516.72 962.7,515.74 964.7,514.79 C966.7,513.85 968.7,512.94 970.7,512.09 C972.7,511.24 974.7,510.44 976.7,509.70 C978.7,508.97 980.7,508.30 982.7,507.71 C984.7,507.12 986.7,506.61 988.7,506.19 C990.7,505.77 992.7,505.45 994.7,505.22 C996.7,505.00 998.7,504.87 1000.7,504.86 C1002.7,504.85 1004.7,504.95 1006.7,505.17 C1008.7,505.40 1010.7,505.74 1012.7,506.22 C1014.7,506.70 1016.7,507.31 1018.7,508.06 C1020.7,508.81 1022.7,509.69 1024.7,510.65 C1026.7,511.61 1028.7,512.64 1030.7,513.69 C1032.7,514.74 1034.7,515.81 1036.7,516.84 C1038.7,517.87 1040.7,518.87 1042.7,519.77 C1044.7,520.68 1046.7,521.49 1048.7,522.16 C1050.7,522.83 1052.7,523.35 1054.7,523.69 C1056.7,524.03 1058.7,524.16 1060.7,524.09 C1062.7,524.02 1064.7,523.76 1066.7,523.37 C1068.7,522.98 1070.7,522.46 1072.7,521.86 C1074.7,521.27 1076.7,520.60 1078.7,519.89 C1080.7,519.19 1082.7,518.46 1084.7,517.74 C1086.7,517.03 1088.7,516.32 1090.7,515.68 C1092.7,515.04 1094.7,514.46 1096.7,513.98 C1098.7,513.50 1100.7,513.12 1102.7,512.90 C1104.7,512.67 1106.7,512.60 1108.7,512.71 C1110.7,512.82 1112.7,513.11 1114.7,513.52 C1116.7,513.92 1118.7,514.46 1120.7,515.07 C1122.7,515.68 1124.7,516.36 1126.7,517.08 C1128.7,517.79 1130.7,518.53 1132.7,519.26 C1134.7,519.98 1136.7,520.69 1138.7,521.32 C1140.7,521.96 1142.7,522.52 1144.7,523.00 C1146.7,523.47 1148.7,523.86 1150.7,524.19 C1152.7,524.51 1154.7,524.76 1156.7,524.96 C1158.7,525.16 1160.7,525.30 1162.7,525.39 C1164.7,525.49 1166.7,525.54 1168.7,525.56 C1170.7,525.58 1172.7,525.57 1174.7,525.54 C1176.7,525.51 1178.7,525.47 1180.7,525.41 C1182.7,525.36 1184.7,525.29 1186.7,525.24 C1188.7,525.18 1190.7,525.14 1192.7,525.09 C1194.7,525.05 1196.7,525.02 1198.7,524.99 C1200.7,524.96 1202.7,524.93 1204.7,524.91 C1206.7,524.89 1208.7,524.88 1210.7,524.87 C1212.7,524.86 1214.7,524.86 1216.7,524.86 C1218.7,524.86 1220.7,524.86 1222.7,524.87 C1224.7,524.88 1226.7,524.89 1228.7,524.91 C1230.7,524.92 1232.7,524.94 1234.7,524.96 C1236.7,524.98 1238.7,525.01 1240.7,525.04 C1242.7,525.07 1244.7,525.10 1246.7,525.13 C1248.7,525.16 1250.7,525.19 1252.7,525.23 C1254.7,525.27 1256.7,525.32 1258.7,525.39 C1260.7,525.45 1262.7,525.53 1264.7,525.64 C1266.7,525.75 1268.7,525.89 1270.7,526.06 C1272.7,526.23 1274.7,526.44 1276.7,526.69 C1278.7,526.94 1280.7,527.24 1282.7,527.59 C1284.7,527.94 1286.7,528.34 1288.7,528.81 C1290.7,529.28 1292.7,529.80 1294.7,530.34 C1296.7,530.87 1298.7,531.42 1300.7,531.92 C1302.7,532.43 1304.7,532.89 1306.7,533.28 C1308.7,533.66 1310.7,533.96 1312.7,534.14 C1314.7,534.32 1316.7,534.39 1318.7,534.31 C1320.7,534.22 1322.7,533.98 1324.7,533.60 C1326.7,533.23 1328.7,532.74 1330.7,532.19 C1332.7,531.64 1334.7,531.02 1336.7,530.41 C1338.7,529.79 1340.7,529.18 1342.7,528.61 C1344.7,528.05 1346.7,527.52 1348.7,527.06 C1350.7,526.60 1352.7,526.22 1354.7,525.93 C1356.7,525.65 1358.7,525.46 1360.7,525.41 C1362.7,525.36 1364.7,525.44 1366.7,525.68 C1368.7,525.92 1370.7,526.32 1372.7,526.91 C1374.7,527.51 1376.7,528.31 1378.7,529.27 C1380.7,530.23 1382.7,531.35 1384.7,532.54 C1386.7,533.73 1388.7,534.98 1390.7,536.23 C1392.7,537.48 1394.7,538.72 1396.7,539.86 C1398.7,541.00 1400.7,542.06 1402.7,542.93 C1404.7,543.81 1406.7,544.51 1408.7,544.96 C1410.7,545.41 1412.7,545.58 1414.7,545.61 C1416.7,545.64 1418.7,545.52 1420.7,545.38 C1422.7,545.25 1424.7,545.11 1426.7,545.03 C1428.7,544.95 1430.7,544.91 1432.7,544.90 C1434.7,544.89 1436.7,544.90 1438.7,544.94 C1440.7,544.98 1442.7,545.03 1444.7,545.09 C1446.7,545.15 1448.7,545.22 1450.7,545.29 C1452.7,545.35 1454.7,545.41 1456.7,545.46 C1458.7,545.51 1460.7,545.54 1462.7,545.55 C1464.7,545.56 1466.7,545.54 1468.7,545.49 C1470.7,545.43 1472.7,545.34 1474.7,545.21 C1476.7,545.07 1478.7,544.89 1480.7,544.65 C1482.7,544.40 1484.7,544.10 1486.7,543.76 C1488.7,543.41 1490.7,543.02 1492.7,542.61 C1494.7,542.19 1496.7,541.75 1498.7,541.31 C1500.7,540.87 1502.7,540.42 1504.7,539.99 C1506.7,539.55 1508.7,539.13 1510.7,538.75 C1512.7,538.36 1514.7,538.01 1516.7,537.71 C1518.7,537.41 1520.7,537.18 1522.7,536.99 C1524.7,536.80 1526.7,536.66 1528.7,536.51 C1530.7,536.36 1532.7,536.20 1534.7,535.97 C1536.7,535.75 1538.7,535.45 1540.7,535.08 C1542.7,534.71 1544.7,534.27 1546.7,533.81 C1548.7,533.34 1550.7,532.84 1552.7,532.35 C1554.7,531.86 1556.7,531.37 1558.7,530.92 C1560.7,530.47 1562.7,530.06 1564.7,529.72 C1566.7,529.38 1568.7,529.11 1570.7,528.95 C1572.7,528.79 1574.7,528.74 1576.7,528.83 C1578.7,528.92 1580.7,529.15 1582.7,529.55 C1584.7,529.96 1586.7,530.53 1588.7,531.23 C1590.7,531.94 1592.7,532.79 1594.7,533.74 C1596.7,534.70 1598.7,535.77 1600.7,536.91 C1602.7,538.06 1604.7,539.29 1606.7,540.58 C1608.7,541.87 1610.7,543.22 1612.7,544.49 C1614.7,545.76 1616.7,546.96 1618.7,547.95 C1620.7,548.93 1622.7,549.70 1624.7,550.12 C1626.7,550.55 1628.7,550.58 1630.7,550.27 C1632.7,549.95 1634.7,549.30 1636.7,548.40 C1638.7,547.50 1640.7,546.36 1642.7,545.06 C1644.7,543.76 1646.7,542.30 1648.7,540.79 C1650.7,539.28 1652.7,537.71 1654.7,536.20 C1656.7,534.68 1658.7,533.23 1660.7,531.94 C1662.7,530.65 1664.7,529.54 1666.7,528.63 C1668.7,527.72 1670.7,526.99 1672.7,526.41 C1674.7,525.83 1676.7,525.40 1678.7,525.10 C1680.7,524.80 1682.7,524.62 1684.7,524.53 C1686.7,524.45 1688.7,524.46 1690.7,524.54 C1692.7,524.62 1694.7,524.77 1696.7,524.95 C1698.7,525.13 1700.7,525.36 1702.7,525.59 C1704.7,525.82 1706.7,526.06 1708.7,526.28 C1710.7,526.51 1712.7,526.71 1714.7,526.88 C1716.7,527.06 1718.7,527.21 1720.7,527.34 C1722.7,527.47 1724.7,527.58 1726.7,527.66 C1728.7,527.74 1730.7,527.80 1732.7,527.83 C1734.7,527.87 1736.7,527.88 1738.7,527.86 C1740.7,527.85 1742.7,527.81 1744.7,527.75 C1746.7,527.69 1748.7,527.60 1750.7,527.49 C1752.7,527.38 1754.7,527.24 1756.7,527.08 C1758.7,526.92 1760.7,526.74 1762.7,526.55 C1764.7,526.36 1766.7,526.17 1768.7,526.00 C1770.7,525.84 1772.7,525.69 1774.7,525.58 C1776.7,525.47 1778.7,525.40 1780.7,525.40 C1782.7,525.40 1784.7,525.46 1786.7,525.60 C1788.7,525.75 1790.7,525.98 1792.7,526.31 C1794.7,526.65 1796.7,527.10 1798.7,527.66 C1800.7,528.21 1802.7,528.86 1804.7,529.48 C1806.7,530.10 1808.7,530.71 1810.7,531.20 C1812.7,531.69 1814.7,532.04 1816.7,532.25 C1818.7,532.47 1820.7,532.57 1822.7,532.56 C1824.7,532.55 1826.7,532.44 1828.7,532.25 C1830.7,532.06 1832.7,531.80 1834.7,531.48 C1836.7,531.15 1838.7,530.78 1840.7,530.37 C1842.7,529.97 1844.7,529.53 1846.7,529.08 C1848.7,528.64 1850.7,528.19 1852.7,527.75 C1854.7,527.32 1856.7,526.90 1858.7,526.52 C1860.7,526.14 1862.7,525.81 1864.7,525.53 C1866.7,525.26 1868.7,525.05 1870.7,524.93 C1872.7,524.80 1874.7,524.77 1876.7,524.81 C1878.7,524.85 1880.7,524.96 1882.7,525.12 C1884.7,525.29 1886.7,525.50 1888.7,525.75 C1890.7,525.99 1892.7,526.27 1894.7,526.56 C1896.7,526.85 1898.7,527.16 1900.7,527.46 C1902.7,527.75 1904.7,528.05 1906.7,528.31 C1908.7,528.58 1910.7,528.82 1912.7,529.01 C1914.7,529.21 1916.7,529.35 1918.7,529.44 C1920.7,529.52 1922.7,529.54 1924.7,529.48" fill="none" stroke="#4c6d21" stroke-width="3" stroke-linejoin="round"/><path d="M945.90,401.14 C947.9,400.41 949.9,399.61 951.9,398.76 C953.9,397.92 955.9,397.03 957.9,396.12 C959.9,395.20 961.9,394.27 963.9,393.33 C965.9,392.39 967.9,391.46 969.9,390.55 C971.9,389.63 973.9,388.74 975.9,387.89 C977.9,387.05 979.9,386.25 981.9,385.52 C983.9,384.78 985.9,384.12 987.9,383.55 C989.9,382.97 991.9,382.49 993.9,382.12 C995.9,381.75 997.9,381.50 999.9,381.38 C1001.9,381.26 1003.9,381.28 1005.9,381.45 C1007.9,381.63 1009.9,381.97 1011.9,382.48 C1013.9,383.00 1015.9,383.71 1017.9,384.56 C1019.9,385.41 1021.9,386.40 1023.9,387.46 C1025.9,388.52 1027.9,389.66 1029.9,390.80 C1031.9,391.94 1033.9,393.08 1035.9,394.17 C1037.9,395.26 1039.9,396.29 1041.9,397.20 C1043.9,398.11 1045.9,398.87 1047.9,399.55 C1049.9,400.22 1051.9,400.81 1053.9,401.38 C1055.9,401.95 1057.9,402.50 1059.9,403.10 C1061.9,403.70 1063.9,404.35 1065.9,405.10 C1067.9,405.85 1069.9,406.69 1071.9,407.59 C1073.9,408.49 1075.9,409.44 1077.9,410.41 C1079.9,411.38 1081.9,412.36 1083.9,413.33 C1085.9,414.30 1087.9,415.25 1089.9,416.14 C1091.9,417.03 1093.9,417.87 1095.9,418.62 C1097.9,419.36 1099.9,420.02 1101.9,420.55 C1103.9,421.07 1105.9,421.47 1107.9,421.71 C1109.9,421.94 1111.9,422.01 1113.9,421.88 C1115.9,421.75 1117.9,421.41 1119.9,420.84 C1121.9,420.28 1123.9,419.46 1125.9,418.39 C1127.9,417.32 1129.9,416.02 1131.9,414.63 C1133.9,413.24 1135.9,411.76 1137.9,410.32 C1139.9,408.88 1141.9,407.48 1143.9,406.25 C1145.9,405.03 1147.9,403.98 1149.9,403.25 C1151.9,402.51 1153.9,402.09 1155.9,402.11 C1157.9,402.13 1159.9,402.61 1161.9,403.40 C1163.9,404.19 1165.9,405.31 1167.9,406.61 C1169.9,407.91 1171.9,409.40 1173.9,410.95 C1175.9,412.50 1177.9,414.09 1179.9,415.65 C1181.9,417.21 1183.9,418.75 1185.9,420.26 C1187.9,421.77 1189.9,423.25 1191.9,424.69 C1193.9,426.13 1195.9,427.55 1197.9,428.85 C1199.9,430.14 1201.9,431.29 1203.9,432.14 C1205.9,433.00 1207.9,433.56 1209.9,433.67 C1211.9,433.79 1213.9,433.41 1215.9,432.65 C1217.9,431.89 1219.9,430.74 1221.9,429.35 C1223.9,427.96 1225.9,426.31 1227.9,424.54 C1229.9,422.78 1231.9,420.89 1233.9,419.01 C1235.9,417.13 1237.9,415.25 1239.9,413.52 C1241.9,411.78 1243.9,410.18 1245.9,408.84 C1247.9,407.51 1249.9,406.43 1251.9,405.58 C1253.9,404.74 1255.9,404.14 1257.9,403.76 C1259.9,403.38 1261.9,403.22 1263.9,403.27 C1265.9,403.33 1267.9,403.59 1269.9,404.05 C1271.9,404.50 1273.9,405.16 1275.9,405.99 C1277.9,406.82 1279.9,407.84 1281.9,409.00 C1283.9,410.17 1285.9,411.48 1287.9,412.84 C1289.9,414.21 1291.9,415.65 1293.9,417.06 C1295.9,418.48 1297.9,419.88 1299.9,421.19 C1301.9,422.49 1303.9,423.71 1305.9,424.75 C1307.9,425.79 1309.9,426.66 1311.9,427.29 C1313.9,427.91 1315.9,428.28 1317.9,428.32 C1319.9,428.37 1321.9,428.08 1323.9,427.49 C1325.9,426.89 1327.9,425.98 1329.9,424.78 C1331.9,423.58 1333.9,422.08 1335.9,420.31 C1337.9,418.54 1339.9,416.53 1341.9,414.57 C1343.9,412.61 1345.9,410.70 1347.9,409.12 C1349.9,407.55 1351.9,406.30 1353.9,405.36 C1355.9,404.42 1357.9,403.77 1359.9,403.39 C1361.9,403.01 1363.9,402.90 1365.9,403.01 C1367.9,403.12 1369.9,403.46 1371.9,403.99 C1373.9,404.52 1375.9,405.24 1377.9,406.12 C1379.9,407.00 1381.9,408.04 1383.9,409.15 C1385.9,410.27 1387.9,411.47 1389.9,412.67 C1391.9,413.87 1393.9,415.08 1395.9,416.22 C1397.9,417.35 1399.9,418.42 1401.9,419.34 C1403.9,420.26 1405.9,421.04 1407.9,421.59 C1409.9,422.15 1411.9,422.48 1413.9,422.51 C1415.9,422.55 1417.9,422.30 1419.9,421.85 C1421.9,421.39 1423.9,420.73 1425.9,419.94 C1427.9,419.14 1429.9,418.22 1431.9,417.24 C1433.9,416.26 1435.9,415.22 1437.9,414.16 C1439.9,413.11 1441.9,412.03 1443.9,410.98 C1445.9,409.94 1447.9,408.92 1449.9,407.97 C1451.9,407.03 1453.9,406.15 1455.9,405.40 C1457.9,404.64 1459.9,404.00 1461.9,403.52 C1463.9,403.05 1465.9,402.73 1467.9,402.62 C1469.9,402.51 1471.9,402.59 1473.9,402.82 C1475.9,403.06 1477.9,403.44 1479.9,403.92 C1481.9,404.40 1483.9,404.99 1485.9,405.63 C1487.9,406.27 1489.9,406.97 1491.9,407.68 C1493.9,408.38 1495.9,409.10 1497.9,409.78 C1499.9,410.45 1501.9,411.09 1503.9,411.65 C1505.9,412.21 1507.9,412.69 1509.9,413.08 C1511.9,413.48 1513.9,413.80 1515.9,414.03 C1517.9,414.26 1519.9,414.40 1521.9,414.46 C1523.9,414.51 1525.9,414.48 1527.9,414.36 C1529.9,414.23 1531.9,414.02 1533.9,413.71 C1535.9,413.40 1537.9,412.99 1539.9,412.49 C1541.9,411.98 1543.9,411.37 1545.9,410.69 C1547.9,410.01 1549.9,409.27 1551.9,408.52 C1553.9,407.76 1555.9,406.99 1557.9,406.25 C1559.9,405.51 1561.9,404.80 1563.9,404.18 C1565.9,403.55 1567.9,403.01 1569.9,402.60 C1571.9,402.18 1573.9,401.90 1575.9,401.80 C1577.9,401.69 1579.9,401.77 1581.9,402.07 C1583.9,402.37 1585.9,402.91 1587.9,403.69 C1589.9,404.46 1591.9,405.49 1593.9,406.77 C1595.9,408.06 1597.9,409.63 1599.9,411.32 C1601.9,413.02 1603.9,414.83 1605.9,416.59 C1607.9,418.35 1609.9,420.04 1611.9,421.56 C1613.9,423.08 1615.9,424.43 1617.9,425.52 C1619.9,426.62 1621.9,427.45 1623.9,427.93 C1625.9,428.41 1627.9,428.50 1629.9,428.26 C1631.9,428.02 1633.9,427.46 1635.9,426.66 C1637.9,425.86 1639.9,424.83 1641.9,423.66 C1643.9,422.48 1645.9,421.17 1647.9,419.80 C1649.9,418.43 1651.9,417.00 1653.9,415.57 C1655.9,414.14 1657.9,412.72 1659.9,411.37 C1661.9,410.02 1663.9,408.74 1665.9,407.59 C1667.9,406.45 1669.9,405.44 1671.9,404.63 C1673.9,403.83 1675.9,403.22 1677.9,402.89 C1679.9,402.55 1681.9,402.50 1683.9,402.73 C1685.9,402.96 1687.9,403.45 1689.9,404.15 C1691.9,404.85 1693.9,405.76 1695.9,406.83 C1697.9,407.89 1699.9,409.11 1701.9,410.42 C1703.9,411.73 1705.9,413.15 1707.9,414.63 C1709.9,416.12 1711.9,417.69 1713.9,419.30 C1715.9,420.91 1717.9,422.57 1719.9,424.25 C1721.9,425.94 1723.9,427.66 1725.9,429.31 C1727.9,430.96 1729.9,432.52 1731.9,433.81 C1733.9,435.11 1735.9,436.14 1737.9,436.73 C1739.9,437.33 1741.9,437.48 1743.9,437.03 C1745.9,436.58 1747.9,435.51 1749.9,433.96 C1751.9,432.41 1753.9,430.39 1755.9,428.02 C1757.9,425.66 1759.9,422.95 1761.9,420.05 C1763.9,417.15 1765.9,414.06 1767.9,411.35 C1769.9,408.64 1771.9,406.35 1773.9,404.84 C1775.9,403.33 1777.9,402.49 1779.9,402.18 C1781.9,401.88 1783.9,402.11 1785.9,402.74 C1787.9,403.37 1789.9,404.41 1791.9,405.71 C1793.9,407.01 1795.9,408.57 1797.9,410.27 C1799.9,411.96 1801.9,413.78 1803.9,415.59 C1805.9,417.41 1807.9,419.21 1809.9,420.86 C1811.9,422.51 1813.9,424.01 1815.9,425.23 C1817.9,426.44 1819.9,427.37 1821.9,427.87 C1823.9,428.37 1825.9,428.41 1827.9,428.00 C1829.9,427.59 1831.9,426.78 1833.9,425.67 C1835.9,424.57 1837.9,423.18 1839.9,421.64 C1841.9,420.10 1843.9,418.40 1845.9,416.68 C1847.9,414.95 1849.9,413.20 1851.9,411.56 C1853.9,409.91 1855.9,408.37 1857.9,407.05 C1859.9,405.73 1861.9,404.62 1863.9,403.80 C1865.9,402.99 1867.9,402.47 1869.9,402.34 C1871.9,402.21 1873.9,402.47 1875.9,403.04 C1877.9,403.61 1879.9,404.49 1881.9,405.59 C1883.9,406.69 1885.9,408.00 1887.9,409.45 C1889.9,410.91 1891.9,412.51 1893.9,414.26 C1895.9,416.00 1897.9,417.89 1899.9,419.90 C1901.9,421.90 1903.9,424.03 1905.9,426.27 C1907.9,428.50 1909.9,430.85 1911.9,433.28 C1913.9,435.71 1915.9,438.24 1917.9,440.83 C1919.9,443.43 1921.9,446.11 1923.9,448.84 C1924.0,449.02 1924.2,449.20 1924.3,449.39" fill="none" stroke="#79ee50" stroke-width="3" stroke-linejoin="round"/><path d="M945.90,357.84 C947.9,357.11 949.9,356.31 951.9,355.46 C953.9,354.62 955.9,353.73 957.9,352.82 C959.9,351.90 961.9,350.97 963.9,350.03 C965.9,349.09 967.9,348.16 969.9,347.25 C971.9,346.33 973.9,345.44 975.9,344.59 C977.9,343.75 979.9,342.95 981.9,342.22 C983.9,341.48 985.9,340.82 987.9,340.25 C989.9,339.67 991.9,339.19 993.9,338.82 C995.9,338.45 997.9,338.20 999.9,338.08 C1001.9,337.96 1003.9,337.98 1005.9,338.15 C1007.9,338.33 1009.9,338.67 1011.9,339.18 C1013.9,339.70 1015.9,340.41 1017.9,341.26 C1019.9,342.11 1021.9,343.10 1023.9,344.16 C1025.9,345.22 1027.9,346.36 1029.9,347.50 C1031.9,348.64 1033.9,349.78 1035.9,350.87 C1037.9,351.96 1039.9,352.99 1041.9,353.90 C1043.9,354.81 1045.9,355.57 1047.9,356.25 C1049.9,356.92 1051.9,357.51 1053.9,358.08 C1055.9,358.65 1057.9,359.20 1059.9,359.80 C1061.9,360.40 1063.9,361.05 1065.9,361.80 C1067.9,362.55 1069.9,363.39 1071.9,364.29 C1073.9,365.19 1075.9,366.14 1077.9,367.11 C1079.9,368.08 1081.9,369.06 1083.9,370.03 C1085.9,371.00 1087.9,371.95 1089.9,372.84 C1091.9,373.73 1093.9,374.57 1095.9,375.32 C1097.9,376.06 1099.9,376.72 1101.9,377.25 C1103.9,377.77 1105.9,378.17 1107.9,378.41 C1109.9,378.64 1111.9,378.71 1113.9,378.58 C1115.9,378.45 1117.9,378.11 1119.9,377.54 C1121.9,376.98 1123.9,376.16 1125.9,375.09 C1127.9,374.02 1129.9,372.72 1131.9,371.33 C1133.9,369.94 1135.9,368.46 1137.9,367.02 C1139.9,365.58 1141.9,364.18 1143.9,362.95 C1145.9,361.73 1147.9,360.68 1149.9,359.95 C1151.9,359.21 1153.9,358.79 1155.9,358.81 C1157.9,358.83 1159.9,359.31 1161.9,360.10 C1163.9,360.89 1165.9,362.01 1167.9,363.31 C1169.9,364.61 1171.9,366.10 1173.9,367.65 C1175.9,369.20 1177.9,370.79 1179.9,372.35 C1181.9,373.91 1183.9,375.45 1185.9,376.96 C1187.9,378.47 1189.9,379.95 1191.9,381.39 C1193.9,382.83 1195.9,384.25 1197.9,385.55 C1199.9,386.84 1201.9,387.99 1203.9,388.84 C1205.9,389.70 1207.9,390.26 1209.9,390.37 C1211.9,390.49 1213.9,390.11 1215.9,389.35 C1217.9,388.59 1219.9,387.44 1221.9,386.05 C1223.9,384.66 1225.9,383.01 1227.9,381.24 C1229.9,379.48 1231.9,377.59 1233.9,375.71 C1235.9,373.83 1237.9,371.95 1239.9,370.22 C1241.9,368.48 1243.9,366.88 1245.9,365.54 C1247.9,364.21 1249.9,363.13 1251.9,362.28 C1253.9,361.44 1255.9,360.84 1257.9,360.46 C1259.9,360.08 1261.9,359.92 1263.9,359.97 C1265.9,360.03 1267.9,360.29 1269.9,360.75 C1271.9,361.20 1273.9,361.86 1275.9,362.69 C1277.9,363.52 1279.9,364.54 1281.9,365.70 C1283.9,366.87 1285.9,368.18 1287.9,369.54 C1289.9,370.91 1291.9,372.35 1293.9,373.76 C1295.9,375.18 1297.9,376.58 1299.9,377.89 C1301.9,379.19 1303.9,380.41 1305.9,381.45 C1307.9,382.49 1309.9,383.36 1311.9,383.99 C1313.9,384.61 1315.9,384.98 1317.9,385.02 C1319.9,385.07 1321.9,384.78 1323.9,384.19 C1325.9,383.59 1327.9,382.68 1329.9,381.48 C1331.9,380.28 1333.9,378.78 1335.9,377.01 C1337.9,375.24 1339.9,373.23 1341.9,371.27 C1343.9,369.31 1345.9,367.40 1347.9,365.82 C1349.9,364.25 1351.9,363.00 1353.9,362.06 C1355.9,361.12 1357.9,360.47 1359.9,360.09 C1361.9,359.71 1363.9,359.60 1365.9,359.71 C1367.9,359.82 1369.9,360.16 1371.9,360.69 C1373.9,361.22 1375.9,361.94 1377.9,362.82 C1379.9,363.70 1381.9,364.74 1383.9,365.85 C1385.9,366.97 1387.9,368.17 1389.9,369.37 C1391.9,370.57 1393.9,371.78 1395.9,372.92 C1397.9,374.05 1399.9,375.12 1401.9,376.04 C1403.9,376.96 1405.9,377.74 1407.9,378.29 C1409.9,378.85 1411.9,379.18 1413.9,379.21 C1415.9,379.25 1417.9,379.00 1419.9,378.55 C1421.9,378.09 1423.9,377.43 1425.9,376.64 C1427.9,375.84 1429.9,374.92 1431.9,373.94 C1433.9,372.96 1435.9,371.92 1437.9,370.86 C1439.9,369.81 1441.9,368.73 1443.9,367.68 C1445.9,366.64 1447.9,365.62 1449.9,364.67 C1451.9,363.73 1453.9,362.85 1455.9,362.10 C1457.9,361.34 1459.9,360.70 1461.9,360.22 C1463.9,359.75 1465.9,359.43 1467.9,359.32 C1469.9,359.21 1471.9,359.29 1473.9,359.52 C1475.9,359.76 1477.9,360.14 1479.9,360.62 C1481.9,361.10 1483.9,361.69 1485.9,362.33 C1487.9,362.97 1489.9,363.67 1491.9,364.38 C1493.9,365.08 1495.9,365.80 1497.9,366.48 C1499.9,367.15 1501.9,367.79 1503.9,368.35 C1505.9,368.91 1507.9,369.39 1509.9,369.78 C1511.9,370.18 1513.9,370.50 1515.9,370.73 C1517.9,370.96 1519.9,371.10 1521.9,371.16 C1523.9,371.21 1525.9,371.18 1527.9,371.06 C1529.9,370.93 1531.9,370.72 1533.9,370.41 C1535.9,370.10 1537.9,369.69 1539.9,369.19 C1541.9,368.68 1543.9,368.07 1545.9,367.39 C1547.9,366.71 1549.9,365.97 1551.9,365.22 C1553.9,364.46 1555.9,363.69 1557.9,362.95 C1559.9,362.21 1561.9,361.50 1563.9,360.88 C1565.9,360.25 1567.9,359.71 1569.9,359.30 C1571.9,358.88 1573.9,358.60 1575.9,358.50 C1577.9,358.39 1579.9,358.47 1581.9,358.77 C1583.9,359.07 1585.9,359.61 1587.9,360.39 C1589.9,361.16 1591.9,362.19 1593.9,363.47 C1595.9,364.76 1597.9,366.33 1599.9,368.02 C1601.9,369.72 1603.9,371.53 1605.9,373.29 C1607.9,375.05 1609.9,376.74 1611.9,378.26 C1613.9,379.78 1615.9,381.13 1617.9,382.22 C1619.9,383.32 1621.9,384.15 1623.9,384.63 C1625.9,385.11 1627.9,385.20 1629.9,384.96 C1631.9,384.72 1633.9,384.16 1635.9,383.36 C1637.9,382.56 1639.9,381.53 1641.9,380.36 C1643.9,379.18 1645.9,377.87 1647.9,376.50 C1649.9,375.13 1651.9,373.70 1653.9,372.27 C1655.9,370.84 1657.9,369.42 1659.9,368.07 C1661.9,366.72 1663.9,365.44 1665.9,364.29 C1667.9,363.15 1669.9,362.14 1671.9,361.33 C1673.9,360.53 1675.9,359.92 1677.9,359.59 C1679.9,359.25 1681.9,359.20 1683.9,359.43 C1685.9,359.66 1687.9,360.15 1689.9,360.85 C1691.9,361.55 1693.9,362.46 1695.9,363.53 C1697.9,364.59 1699.9,365.81 1701.9,367.12 C1703.9,368.43 1705.9,369.85 1707.9,371.33 C1709.9,372.82 1711.9,374.39 1713.9,376.00 C1715.9,377.61 1717.9,379.27 1719.9,380.95 C1721.9,382.64 1723.9,384.36 1725.9,386.01 C1727.9,387.66 1729.9,389.22 1731.9,390.51 C1733.9,391.81 1735.9,392.84 1737.9,393.43 C1739.9,394.03 1741.9,394.18 1743.9,393.73 C1745.9,393.28 1747.9,392.21 1749.9,390.66 C1751.9,389.11 1753.9,387.09 1755.9,384.72 C1757.9,382.36 1759.9,379.65 1761.9,376.75 C1763.9,373.85 1765.9,370.76 1767.9,368.05 C1769.9,365.34 1771.9,363.05 1773.9,361.54 C1775.9,360.03 1777.9,359.19 1779.9,358.88 C1781.9,358.58 1783.9,358.81 1785.9,359.44 C1787.9,360.07 1789.9,361.11 1791.9,362.41 C1793.9,363.71 1795.9,365.27 1797.9,366.97 C1799.9,368.66 1801.9,370.48 1803.9,372.29 C1805.9,374.11 1807.9,375.91 1809.9,377.56 C1811.9,379.21 1813.9,380.71 1815.9,381.93 C1817.9,383.14 1819.9,384.07 1821.9,384.57 C1823.9,385.07 1825.9,385.11 1827.9,384.70 C1829.9,384.29 1831.9,383.48 1833.9,382.37 C1835.9,381.27 1837.9,379.88 1839.9,378.34 C1841.9,376.80 1843.9,375.10 1845.9,373.38 C1847.9,371.65 1849.9,369.90 1851.9,368.26 C1853.9,366.61 1855.9,365.07 1857.9,363.75 C1859.9,362.43 1861.9,361.32 1863.9,360.50 C1865.9,359.69 1867.9,359.17 1869.9,359.04 C1871.9,358.91 1873.9,359.17 1875.9,359.74 C1877.9,360.31 1879.9,361.19 1881.9,362.29 C1883.9,363.39 1885.9,364.70 1887.9,366.15 C1889.9,367.61 1891.9,369.21 1893.9,370.96 C1895.9,372.70 1897.9,374.59 1899.9,376.60 C1901.9,378.60 1903.9,380.73 1905.9,382.97 C1907.9,385.20 1909.9,387.55 1911.9,389.98 C1913.9,392.41 1915.9,394.94 1917.9,397.53 C1919.9,400.13 1921.9,402.81 1923.9,405.54 C1924.0,405.72 1924.2,405.90 1924.3,406.09" fill="none" stroke="#f8f050" stroke-width="3" stroke-linejoin="round"/><path d="M2024.80,600.50 C2026.8,599.46 2028.8,598.42 2030.8,597.39 C2032.8,596.36 2034.8,595.34 2036.8,594.35 C2038.8,593.36 2040.8,592.39 2042.8,591.46 C2044.8,590.53 2046.8,589.64 2048.8,588.80 C2050.8,587.95 2052.8,587.16 2054.8,586.43 C2056.8,585.69 2058.8,585.02 2060.8,584.43 C2062.8,583.83 2064.8,583.31 2066.8,582.87 C2068.8,582.44 2070.8,582.09 2072.8,581.84 C2074.8,581.58 2076.8,581.43 2078.8,581.38 C2080.8,581.33 2082.8,581.38 2084.8,581.55 C2086.8,581.73 2088.8,582.01 2090.8,582.42 C2092.8,582.84 2094.8,583.37 2096.8,584.05 C2098.8,584.72 2100.8,585.53 2102.8,586.42 C2104.8,587.32 2106.8,588.30 2108.8,589.31 C2110.8,590.33 2112.8,591.37 2114.8,592.40 C2116.8,593.43 2118.8,594.44 2120.8,595.38 C2122.8,596.32 2124.8,597.18 2126.8,597.93 C2128.8,598.67 2130.8,599.30 2132.8,599.76 C2134.8,600.22 2136.8,600.50 2138.8,600.58 C2140.8,600.66 2142.8,600.54 2144.8,600.27 C2146.8,600.00 2148.8,599.58 2150.8,599.07 C2152.8,598.56 2154.8,597.95 2156.8,597.30 C2158.8,596.64 2160.8,595.94 2162.8,595.23 C2164.8,594.53 2166.8,593.82 2168.8,593.14 C2170.8,592.46 2172.8,591.83 2174.8,591.26 C2176.8,590.70 2178.8,590.22 2180.8,589.86 C2182.8,589.50 2184.8,589.26 2186.8,589.18 C2188.8,589.11 2190.8,589.21 2192.8,589.46 C2194.8,589.71 2196.8,590.10 2198.8,590.59 C2200.8,591.09 2202.8,591.68 2204.8,592.33 C2206.8,592.98 2208.8,593.69 2210.8,594.40 C2212.8,595.12 2214.8,595.84 2216.8,596.53 C2218.8,597.22 2220.8,597.88 2222.8,598.45 C2224.8,599.03 2226.8,599.52 2228.8,599.93 C2230.8,600.34 2232.8,600.68 2234.8,600.96 C2236.8,601.24 2238.8,601.45 2240.8,601.61 C2242.8,601.78 2244.8,601.89 2246.8,601.96 C2248.8,602.03 2250.8,602.07 2252.8,602.07 C2254.8,602.08 2256.8,602.06 2258.8,602.02 C2260.8,601.98 2262.8,601.93 2264.8,601.88 C2266.8,601.82 2268.8,601.76 2270.8,601.71 C2272.8,601.66 2274.8,601.61 2276.8,601.57 C2278.8,601.53 2280.8,601.50 2282.8,601.47 C2284.8,601.45 2286.8,601.42 2288.8,601.41 C2290.8,601.39 2292.8,601.38 2294.8,601.37 C2296.8,601.36 2298.8,601.36 2300.8,601.36 C2302.8,601.36 2304.8,601.36 2306.8,601.37 C2308.8,601.38 2310.8,601.39 2312.8,601.41 C2314.8,601.42 2316.8,601.44 2318.8,601.46 C2320.8,601.49 2322.8,601.51 2324.8,601.54 C2326.8,601.57 2328.8,601.59 2330.8,601.63 C2332.8,601.66 2334.8,601.69 2336.8,601.73 C2338.8,601.77 2340.8,601.81 2342.8,601.88 C2344.8,601.94 2346.8,602.02 2348.8,602.12 C2350.8,602.22 2352.8,602.35 2354.8,602.51 C2356.8,602.67 2358.8,602.87 2360.8,603.10 C2362.8,603.34 2364.8,603.62 2366.8,603.95 C2368.8,604.28 2370.8,604.66 2372.8,605.10 C2374.8,605.53 2376.8,606.04 2378.8,606.56 C2380.8,607.07 2382.8,607.61 2384.8,608.12 C2386.8,608.63 2388.8,609.11 2390.8,609.52 C2392.8,609.93 2394.8,610.26 2396.8,610.49 C2398.8,610.72 2400.8,610.85 2402.8,610.84 C2404.8,610.83 2406.8,610.68 2408.8,610.38 C2410.8,610.09 2412.8,609.66 2414.8,609.16 C2416.8,608.66 2418.8,608.08 2420.8,607.49 C2422.8,606.89 2424.8,606.28 2426.8,605.70 C2428.8,605.12 2430.8,604.57 2432.8,604.07 C2434.8,603.58 2436.8,603.15 2438.8,602.80 C2440.8,602.45 2442.8,602.18 2444.8,602.03 C2446.8,601.89 2448.8,601.85 2450.8,601.96 C2452.8,602.07 2454.8,602.32 2456.8,602.74 C2458.8,603.17 2460.8,603.76 2462.8,604.56 C2464.8,605.35 2466.8,606.32 2468.8,607.40 C2470.8,608.48 2472.8,609.66 2474.8,610.88 C2476.8,612.09 2478.8,613.33 2480.8,614.53 C2482.8,615.72 2484.8,616.87 2486.8,617.89 C2488.8,618.91 2490.8,619.80 2492.8,620.49 C2494.8,621.18 2496.8,621.66 2498.8,621.89 C2500.8,622.12 2502.8,622.15 2504.8,622.08 C2506.8,622.01 2508.8,621.85 2510.8,621.73 C2512.8,621.60 2514.8,621.51 2516.8,621.46 C2518.8,621.41 2520.8,621.39 2522.8,621.40 C2524.8,621.40 2526.8,621.43 2528.8,621.48 C2530.8,621.53 2532.8,621.59 2534.8,621.65 C2536.8,621.71 2538.8,621.78 2540.8,621.84 C2542.8,621.90 2544.8,621.96 2546.8,622.00 C2548.8,622.03 2550.8,622.06 2552.8,622.05 C2554.8,622.04 2556.8,622.01 2558.8,621.94 C2560.8,621.88 2562.8,621.77 2564.8,621.62 C2566.8,621.46 2568.8,621.26 2570.8,621.01 C2572.8,620.75 2574.8,620.43 2576.8,620.08 C2578.8,619.73 2580.8,619.34 2582.8,618.92 C2584.8,618.51 2586.8,618.08 2588.8,617.64 C2590.8,617.21 2592.8,616.77 2594.8,616.35 C2596.8,615.93 2598.8,615.52 2600.8,615.15 C2602.8,614.78 2604.8,614.44 2606.8,614.15 C2608.8,613.87 2610.8,613.64 2612.8,613.47 C2614.8,613.29 2616.8,613.15 2618.8,613.00 C2620.8,612.85 2622.8,612.69 2624.8,612.47 C2626.8,612.25 2628.8,611.96 2630.8,611.60 C2632.8,611.23 2634.8,610.81 2636.8,610.35 C2638.8,609.90 2640.8,609.41 2642.8,608.93 C2644.8,608.45 2646.8,607.97 2648.8,607.52 C2650.8,607.07 2652.8,606.66 2654.8,606.31 C2656.8,605.97 2658.8,605.69 2660.8,605.51 C2662.8,605.33 2664.8,605.25 2666.8,605.30 C2668.8,605.35 2670.8,605.53 2672.8,605.88 C2674.8,606.22 2676.8,606.73 2678.8,607.38 C2680.8,608.02 2682.8,608.81 2684.8,609.70 C2686.8,610.59 2688.8,611.60 2690.8,612.69 C2692.8,613.78 2694.8,614.95 2696.8,616.19 C2698.8,617.42 2700.8,618.73 2702.8,620.01 C2704.8,621.28 2706.8,622.52 2708.8,623.59 C2710.8,624.66 2712.8,625.56 2714.8,626.17 C2716.8,626.77 2718.8,627.06 2720.8,626.96 C2722.8,626.87 2724.8,626.42 2726.8,625.71 C2728.8,625.00 2730.8,624.03 2732.8,622.87 C2734.8,621.72 2736.8,620.38 2738.8,618.96 C2740.8,617.53 2742.8,616.01 2744.8,614.50 C2746.8,612.99 2748.8,611.50 2750.8,610.11 C2752.8,608.73 2754.8,607.48 2756.8,606.42 C2758.8,605.37 2760.8,604.50 2762.8,603.79 C2764.8,603.08 2766.8,602.53 2768.8,602.11 C2770.8,601.70 2772.8,601.41 2774.8,601.23 C2776.8,601.05 2778.8,600.97 2780.8,600.98 C2782.8,600.98 2784.8,601.06 2786.8,601.19 C2788.8,601.33 2790.8,601.51 2792.8,601.72 C2794.8,601.93 2796.8,602.16 2798.8,602.39 C2800.8,602.62 2802.8,602.85 2804.8,603.05 C2806.8,603.25 2808.8,603.42 2810.8,603.58 C2812.8,603.73 2814.8,603.87 2816.8,603.97 C2818.8,604.08 2820.8,604.17 2822.8,604.24 C2824.8,604.30 2826.8,604.34 2828.8,604.36 C2830.8,604.38 2832.8,604.37 2834.8,604.34 C2836.8,604.32 2838.8,604.26 2840.8,604.19 C2842.8,604.11 2844.8,604.02 2846.8,603.89 C2848.8,603.77 2850.8,603.62 2852.8,603.46 C2854.8,603.29 2856.8,603.10 2858.8,602.92 C2860.8,602.74 2862.8,602.56 2864.8,602.40 C2866.8,602.25 2868.8,602.11 2870.8,602.02 C2872.8,601.93 2874.8,601.89 2876.8,601.90 C2878.8,601.92 2880.8,602.00 2882.8,602.17 C2884.8,602.34 2886.8,602.59 2888.8,602.95 C2890.8,603.30 2892.8,603.78 2894.8,604.34 C2896.8,604.90 2898.8,605.54 2900.8,606.15 C2902.8,606.75 2904.8,607.34 2906.8,607.80 C2908.8,608.26 2910.8,608.58 2912.8,608.79 C2914.8,608.99 2916.8,609.07 2918.8,609.06 C2920.8,609.04 2922.8,608.93 2924.8,608.75 C2926.8,608.56 2928.8,608.30 2930.8,607.99 C2932.8,607.67 2934.8,607.31 2936.8,606.91 C2938.8,606.51 2940.8,606.09 2942.8,605.65 C2944.8,605.22 2946.8,604.77 2948.8,604.35 C2950.8,603.92 2952.8,603.50 2954.8,603.13 C2956.8,602.75 2958.8,602.41 2960.8,602.13 C2962.8,601.84 2964.8,601.62 2966.8,601.48 C2968.8,601.34 2970.8,601.28 2972.8,601.30 C2974.8,601.32 2976.8,601.40 2978.8,601.54 C2980.8,601.69 2982.8,601.88 2984.8,602.11 C2986.8,602.34 2988.8,602.60 2990.8,602.88 C2992.8,603.16 2994.8,603.45 2996.8,603.75 C2998.8,604.04 3000.8,604.33 3002.8,604.61 C3004.8,604.88 3006.8,605.13 3008.8,605.34 C3010.8,605.56 3012.8,605.73 3014.8,605.85 C3016.8,605.97 3018.8,606.03 3020.8,606.02 C3021.4,606.01 3022.1,606.00 3022.7,605.98" fill="none" stroke="#bb33f2" stroke-width="3" stroke-linejoin="round"/><path d="M2024.80,524.00 C2026.8,522.96 2028.8,521.92 2030.8,520.89 C2032.8,519.86 2034.8,518.84 2036.8,517.85 C2038.8,516.86 2040.8,515.89 2042.8,514.96 C2044.8,514.03 2046.8,513.14 2048.8,512.30 C2050.8,511.45 2052.8,510.66 2054.8,509.93 C2056.8,509.19 2058.8,508.52 2060.8,507.93 C2062.8,507.33 2064.8,506.81 2066.8,506.37 C2068.8,505.94 2070.8,505.59 2072.8,505.34 C2074.8,505.08 2076.8,504.93 2078.8,504.88 C2080.8,504.83 2082.8,504.88 2084.8,505.05 C2086.8,505.23 2088.8,505.51 2090.8,505.92 C2092.8,506.34 2094.8,506.87 2096.8,507.55 C2098.8,508.22 2100.8,509.03 2102.8,509.92 C2104.8,510.82 2106.8,511.80 2108.8,512.81 C2110.8,513.83 2112.8,514.87 2114.8,515.90 C2116.8,516.93 2118.8,517.94 2120.8,518.88 C2122.8,519.82 2124.8,520.68 2126.8,521.43 C2128.8,522.17 2130.8,522.80 2132.8,523.26 C2134.8,523.72 2136.8,524.00 2138.8,524.08 C2140.8,524.16 2142.8,524.04 2144.8,523.77 C2146.8,523.50 2148.8,523.08 2150.8,522.57 C2152.8,522.06 2154.8,521.45 2156.8,520.80 C2158.8,520.14 2160.8,519.44 2162.8,518.73 C2164.8,518.03 2166.8,517.32 2168.8,516.64 C2170.8,515.96 2172.8,515.33 2174.8,514.76 C2176.8,514.20 2178.8,513.72 2180.8,513.36 C2182.8,513.00 2184.8,512.76 2186.8,512.68 C2188.8,512.61 2190.8,512.71 2192.8,512.96 C2194.8,513.21 2196.8,513.60 2198.8,514.09 C2200.8,514.59 2202.8,515.18 2204.8,515.83 C2206.8,516.48 2208.8,517.19 2210.8,517.90 C2212.8,518.62 2214.8,519.34 2216.8,520.03 C2218.8,520.72 2220.8,521.38 2222.8,521.95 C2224.8,522.53 2226.8,523.02 2228.8,523.43 C2230.8,523.84 2232.8,524.18 2234.8,524.46 C2236.8,524.74 2238.8,524.95 2240.8,525.11 C2242.8,525.28 2244.8,525.39 2246.8,525.46 C2248.8,525.53 2250.8,525.57 2252.8,525.57 C2254.8,525.58 2256.8,525.56 2258.8,525.52 C2260.8,525.48 2262.8,525.43 2264.8,525.38 C2266.8,525.32 2268.8,525.26 2270.8,525.21 C2272.8,525.16 2274.8,525.11 2276.8,525.07 C2278.8,525.03 2280.8,525.00 2282.8,524.97 C2284.8,524.95 2286.8,524.92 2288.8,524.91 C2290.8,524.89 2292.8,524.88 2294.8,524.87 C2296.8,524.86 2298.8,524.86 2300.8,524.86 C2302.8,524.86 2304.8,524.86 2306.8,524.87 C2308.8,524.88 2310.8,524.89 2312.8,524.91 C2314.8,524.92 2316.8,524.94 2318.8,524.96 C2320.8,524.99 2322.8,525.01 2324.8,525.04 C2326.8,525.07 2328.8,525.09 2330.8,525.13 C2332.8,525.16 2334.8,525.19 2336.8,525.23 C2338.8,525.27 2340.8,525.31 2342.8,525.38 C2344.8,525.44 2346.8,525.52 2348.8,525.62 C2350.8,525.72 2352.8,525.85 2354.8,526.01 C2356.8,526.17 2358.8,526.37 2360.8,526.60 C2362.8,526.84 2364.8,527.12 2366.8,527.45 C2368.8,527.78 2370.8,528.16 2372.8,528.60 C2374.8,529.03 2376.8,529.54 2378.8,530.06 C2380.8,530.57 2382.8,531.11 2384.8,531.62 C2386.8,532.13 2388.8,532.61 2390.8,533.02 C2392.8,533.43 2394.8,533.76 2396.8,533.99 C2398.8,534.22 2400.8,534.35 2402.8,534.34 C2404.8,534.33 2406.8,534.18 2408.8,533.88 C2410.8,533.59 2412.8,533.16 2414.8,532.66 C2416.8,532.16 2418.8,531.58 2420.8,530.99 C2422.8,530.39 2424.8,529.78 2426.8,529.20 C2428.8,528.62 2430.8,528.07 2432.8,527.57 C2434.8,527.08 2436.8,526.65 2438.8,526.30 C2440.8,525.95 2442.8,525.68 2444.8,525.53 C2446.8,525.39 2448.8,525.35 2450.8,525.46 C2452.8,525.57 2454.8,525.82 2456.8,526.24 C2458.8,526.67 2460.8,527.26 2462.8,528.06 C2464.8,528.85 2466.8,529.82 2468.8,530.90 C2470.8,531.98 2472.8,533.16 2474.8,534.38 C2476.8,535.59 2478.8,536.83 2480.8,538.03 C2482.8,539.22 2484.8,540.37 2486.8,541.39 C2488.8,542.41 2490.8,543.30 2492.8,543.99 C2494.8,544.68 2496.8,545.16 2498.8,545.39 C2500.8,545.62 2502.8,545.65 2504.8,545.58 C2506.8,545.51 2508.8,545.35 2510.8,545.23 C2512.8,545.10 2514.8,545.01 2516.8,544.96 C2518.8,544.91 2520.8,544.89 2522.8,544.90 C2524.8,544.90 2526.8,544.93 2528.8,544.98 C2530.8,545.03 2532.8,545.09 2534.8,545.15 C2536.8,545.21 2538.8,545.28 2540.8,545.34 C2542.8,545.40 2544.8,545.46 2546.8,545.50 C2548.8,545.53 2550.8,545.56 2552.8,545.55 C2554.8,545.54 2556.8,545.51 2558.8,545.44 C2560.8,545.38 2562.8,545.27 2564.8,545.12 C2566.8,544.96 2568.8,544.76 2570.8,544.51 C2572.8,544.25 2574.8,543.93 2576.8,543.58 C2578.8,543.23 2580.8,542.84 2582.8,542.42 C2584.8,542.01 2586.8,541.58 2588.8,541.14 C2590.8,540.71 2592.8,540.27 2594.8,539.85 C2596.8,539.43 2598.8,539.02 2600.8,538.65 C2602.8,538.28 2604.8,537.94 2606.8,537.65 C2608.8,537.37 2610.8,537.14 2612.8,536.97 C2614.8,536.79 2616.8,536.65 2618.8,536.50 C2620.8,536.35 2622.8,536.19 2624.8,535.97 C2626.8,535.75 2628.8,535.46 2630.8,535.10 C2632.8,534.73 2634.8,534.31 2636.8,533.85 C2638.8,533.40 2640.8,532.91 2642.8,532.43 C2644.8,531.95 2646.8,531.47 2648.8,531.02 C2650.8,530.57 2652.8,530.16 2654.8,529.81 C2656.8,529.47 2658.8,529.19 2660.8,529.01 C2662.8,528.83 2664.8,528.75 2666.8,528.80 C2668.8,528.85 2670.8,529.03 2672.8,529.38 C2674.8,529.72 2676.8,530.23 2678.8,530.88 C2680.8,531.52 2682.8,532.31 2684.8,533.20 C2686.8,534.09 2688.8,535.10 2690.8,536.19 C2692.8,537.28 2694.8,538.45 2696.8,539.69 C2698.8,540.92 2700.8,542.23 2702.8,543.51 C2704.8,544.78 2706.8,546.02 2708.8,547.09 C2710.8,548.16 2712.8,549.06 2714.8,549.67 C2716.8,550.27 2718.8,550.56 2720.8,550.46 C2722.8,550.37 2724.8,549.92 2726.8,549.21 C2728.8,548.50 2730.8,547.53 2732.8,546.37 C2734.8,545.22 2736.8,543.88 2738.8,542.46 C2740.8,541.03 2742.8,539.51 2744.8,538.00 C2746.8,536.49 2748.8,535.00 2750.8,533.61 C2752.8,532.23 2754.8,530.98 2756.8,529.92 C2758.8,528.87 2760.8,528.00 2762.8,527.29 C2764.8,526.58 2766.8,526.03 2768.8,525.61 C2770.8,525.20 2772.8,524.91 2774.8,524.73 C2776.8,524.55 2778.8,524.47 2780.8,524.48 C2782.8,524.48 2784.8,524.56 2786.8,524.69 C2788.8,524.83 2790.8,525.01 2792.8,525.22 C2794.8,525.43 2796.8,525.66 2798.8,525.89 C2800.8,526.12 2802.8,526.35 2804.8,526.55 C2806.8,526.75 2808.8,526.92 2810.8,527.08 C2812.8,527.23 2814.8,527.37 2816.8,527.47 C2818.8,527.58 2820.8,527.67 2822.8,527.74 C2824.8,527.80 2826.8,527.84 2828.8,527.86 C2830.8,527.88 2832.8,527.87 2834.8,527.84 C2836.8,527.82 2838.8,527.76 2840.8,527.69 C2842.8,527.61 2844.8,527.52 2846.8,527.39 C2848.8,527.27 2850.8,527.12 2852.8,526.96 C2854.8,526.79 2856.8,526.60 2858.8,526.42 C2860.8,526.24 2862.8,526.06 2864.8,525.90 C2866.8,525.75 2868.8,525.61 2870.8,525.52 C2872.8,525.43 2874.8,525.39 2876.8,525.40 C2878.8,525.42 2880.8,525.50 2882.8,525.67 C2884.8,525.84 2886.8,526.09 2888.8,526.45 C2890.8,526.80 2892.8,527.28 2894.8,527.84 C2896.8,528.40 2898.8,529.04 2900.8,529.65 C2902.8,530.25 2904.8,530.84 2906.8,531.30 C2908.8,531.76 2910.8,532.08 2912.8,532.29 C2914.8,532.49 2916.8,532.57 2918.8,532.56 C2920.8,532.54 2922.8,532.43 2924.8,532.25 C2926.8,532.06 2928.8,531.80 2930.8,531.49 C2932.8,531.17 2934.8,530.81 2936.8,530.41 C2938.8,530.01 2940.8,529.59 2942.8,529.15 C2944.8,528.72 2946.8,528.27 2948.8,527.85 C2950.8,527.42 2952.8,527.00 2954.8,526.63 C2956.8,526.25 2958.8,525.91 2960.8,525.63 C2962.8,525.34 2964.8,525.12 2966.8,524.98 C2968.8,524.84 2970.8,524.78 2972.8,524.80 C2974.8,524.82 2976.8,524.90 2978.8,525.04 C2980.8,525.19 2982.8,525.38 2984.8,525.61 C2986.8,525.84 2988.8,526.10 2990.8,526.38 C2992.8,526.66 2994.8,526.95 2996.8,527.25 C2998.8,527.54 3000.8,527.83 3002.8,528.11 C3004.8,528.38 3006.8,528.63 3008.8,528.84 C3010.8,529.06 3012.8,529.23 3014.8,529.35 C3016.8,529.47 3018.8,529.53 3020.8,529.52 C3021.4,529.51 3022.1,529.50 3022.7,529.48" fill="none" stroke="#4c6d21" stroke-width="3" stroke-linejoin="round"/><path d="M2023.99,401.14 C2026.0,400.42 2028.0,399.64 2030.0,398.81 C2032.0,397.99 2034.0,397.12 2036.0,396.23 C2038.0,395.33 2040.0,394.42 2042.0,393.50 C2044.0,392.58 2046.0,391.66 2048.0,390.76 C2050.0,389.87 2052.0,388.99 2054.0,388.15 C2056.0,387.31 2058.0,386.52 2060.0,385.78 C2062.0,385.05 2064.0,384.38 2066.0,383.79 C2068.0,383.21 2070.0,382.70 2072.0,382.31 C2074.0,381.91 2076.0,381.62 2078.0,381.46 C2080.0,381.29 2082.0,381.26 2084.0,381.37 C2086.0,381.48 2088.0,381.74 2090.0,382.17 C2092.0,382.60 2094.0,383.21 2096.0,383.98 C2098.0,384.74 2100.0,385.66 2102.0,386.65 C2104.0,387.65 2106.0,388.74 2108.0,389.85 C2110.0,390.95 2112.0,392.09 2114.0,393.18 C2116.0,394.28 2118.0,395.34 2120.0,396.29 C2122.0,397.25 2124.0,398.10 2126.0,398.83 C2128.0,399.55 2130.0,400.18 2132.0,400.76 C2134.0,401.34 2136.0,401.88 2138.0,402.44 C2140.0,403.00 2142.0,403.58 2144.0,404.24 C2146.0,404.91 2148.0,405.67 2150.0,406.50 C2152.0,407.32 2154.0,408.22 2156.0,409.15 C2158.0,410.07 2160.0,411.03 2162.0,411.99 C2164.0,412.95 2166.0,413.90 2168.0,414.82 C2170.0,415.74 2172.0,416.62 2174.0,417.44 C2176.0,418.25 2178.0,418.99 2180.0,419.63 C2182.0,420.27 2184.0,420.80 2186.0,421.19 C2188.0,421.58 2190.0,421.84 2192.0,421.92 C2194.0,422.00 2196.0,421.90 2198.0,421.60 C2200.0,421.30 2202.0,420.79 2204.0,420.04 C2206.0,419.29 2208.0,418.27 2210.0,417.07 C2212.0,415.87 2214.0,414.51 2216.0,413.10 C2218.0,411.68 2220.0,410.23 2222.0,408.86 C2224.0,407.49 2226.0,406.21 2228.0,405.13 C2230.0,404.06 2232.0,403.19 2234.0,402.67 C2236.0,402.15 2238.0,401.97 2240.0,402.23 C2242.0,402.50 2244.0,403.15 2246.0,404.09 C2248.0,405.02 2250.0,406.23 2252.0,407.59 C2254.0,408.94 2256.0,410.45 2258.0,411.99 C2260.0,413.52 2262.0,415.07 2264.0,416.59 C2266.0,418.11 2268.0,419.61 2270.0,421.08 C2272.0,422.55 2274.0,423.99 2276.0,425.39 C2278.0,426.79 2280.0,428.16 2282.0,429.39 C2284.0,430.61 2286.0,431.68 2288.0,432.44 C2290.0,433.21 2292.0,433.67 2294.0,433.69 C2296.0,433.71 2298.0,433.26 2300.0,432.45 C2302.0,431.65 2304.0,430.48 2306.0,429.09 C2308.0,427.69 2310.0,426.06 2312.0,424.32 C2314.0,422.58 2316.0,420.72 2318.0,418.88 C2320.0,417.04 2322.0,415.20 2324.0,413.50 C2326.0,411.80 2328.0,410.23 2330.0,408.91 C2332.0,407.60 2334.0,406.52 2336.0,405.68 C2338.0,404.83 2340.0,404.22 2342.0,403.82 C2344.0,403.43 2346.0,403.24 2348.0,403.27 C2350.0,403.29 2352.0,403.51 2354.0,403.92 C2356.0,404.33 2358.0,404.93 2360.0,405.70 C2362.0,406.48 2364.0,407.43 2366.0,408.53 C2368.0,409.64 2370.0,410.88 2372.0,412.21 C2374.0,413.53 2376.0,414.92 2378.0,416.31 C2380.0,417.70 2382.0,419.09 2384.0,420.41 C2386.0,421.72 2388.0,422.96 2390.0,424.05 C2392.0,425.14 2394.0,426.08 2396.0,426.80 C2398.0,427.52 2400.0,428.02 2402.0,428.23 C2404.0,428.43 2406.0,428.32 2408.0,427.91 C2410.0,427.49 2412.0,426.78 2414.0,425.77 C2416.0,424.76 2418.0,423.47 2420.0,421.91 C2422.0,420.34 2424.0,418.48 2426.0,416.56 C2428.0,414.64 2430.0,412.67 2432.0,410.92 C2434.0,409.18 2436.0,407.70 2438.0,406.55 C2440.0,405.40 2442.0,404.55 2444.0,403.97 C2446.0,403.39 2448.0,403.07 2450.0,402.99 C2452.0,402.91 2454.0,403.06 2456.0,403.41 C2458.0,403.76 2460.0,404.31 2462.0,405.02 C2464.0,405.74 2466.0,406.62 2468.0,407.62 C2470.0,408.62 2472.0,409.74 2474.0,410.89 C2476.0,412.05 2478.0,413.24 2480.0,414.41 C2482.0,415.58 2484.0,416.71 2486.0,417.75 C2488.0,418.78 2490.0,419.72 2492.0,420.48 C2494.0,421.24 2496.0,421.83 2498.0,422.17 C2500.0,422.52 2502.0,422.60 2504.0,422.42 C2506.0,422.25 2508.0,421.83 2510.0,421.23 C2512.0,420.64 2514.0,419.88 2516.0,419.02 C2518.0,418.16 2520.0,417.20 2522.0,416.21 C2524.0,415.21 2526.0,414.17 2528.0,413.13 C2530.0,412.09 2532.0,411.04 2534.0,410.04 C2536.0,409.03 2538.0,408.07 2540.0,407.18 C2542.0,406.30 2544.0,405.50 2546.0,404.82 C2548.0,404.14 2550.0,403.59 2552.0,403.20 C2554.0,402.81 2556.0,402.60 2558.0,402.57 C2560.0,402.55 2562.0,402.70 2564.0,402.98 C2566.0,403.27 2568.0,403.69 2570.0,404.20 C2572.0,404.71 2574.0,405.31 2576.0,405.95 C2578.0,406.60 2580.0,407.29 2582.0,407.98 C2584.0,408.68 2586.0,409.37 2588.0,410.03 C2590.0,410.68 2592.0,411.29 2594.0,411.82 C2596.0,412.35 2598.0,412.81 2600.0,413.18 C2602.0,413.56 2604.0,413.86 2606.0,414.07 C2608.0,414.28 2610.0,414.42 2612.0,414.46 C2614.0,414.51 2616.0,414.47 2618.0,414.35 C2620.0,414.22 2622.0,414.01 2624.0,413.70 C2626.0,413.40 2628.0,413.00 2630.0,412.51 C2632.0,412.02 2634.0,411.42 2636.0,410.76 C2638.0,410.10 2640.0,409.38 2642.0,408.64 C2644.0,407.90 2646.0,407.14 2648.0,406.41 C2650.0,405.68 2652.0,404.98 2654.0,404.36 C2656.0,403.73 2658.0,403.18 2660.0,402.74 C2662.0,402.31 2664.0,402.00 2666.0,401.85 C2668.0,401.70 2670.0,401.72 2672.0,401.95 C2674.0,402.18 2676.0,402.62 2678.0,403.30 C2680.0,403.98 2682.0,404.89 2684.0,406.06 C2686.0,407.22 2688.0,408.65 2690.0,410.25 C2692.0,411.86 2694.0,413.61 2696.0,415.35 C2698.0,417.09 2700.0,418.80 2702.0,420.37 C2704.0,421.94 2706.0,423.37 2708.0,424.57 C2710.0,425.77 2712.0,426.75 2714.0,427.42 C2716.0,428.08 2718.0,428.42 2720.0,428.39 C2722.0,428.36 2724.0,428.00 2726.0,427.38 C2728.0,426.76 2730.0,425.88 2732.0,424.84 C2734.0,423.80 2736.0,422.59 2738.0,421.31 C2740.0,420.02 2742.0,418.64 2744.0,417.25 C2746.0,415.86 2748.0,414.45 2750.0,413.08 C2752.0,411.70 2754.0,410.38 2756.0,409.15 C2758.0,407.92 2760.0,406.80 2762.0,405.85 C2764.0,404.89 2766.0,404.10 2768.0,403.54 C2770.0,402.97 2772.0,402.64 2774.0,402.59 C2776.0,402.55 2778.0,402.78 2780.0,403.24 C2782.0,403.71 2784.0,404.40 2786.0,405.27 C2788.0,406.13 2790.0,407.17 2792.0,408.34 C2794.0,409.50 2796.0,410.79 2798.0,412.15 C2800.0,413.52 2802.0,414.98 2804.0,416.49 C2806.0,418.00 2808.0,419.58 2810.0,421.19 C2812.0,422.81 2814.0,424.45 2816.0,426.12 C2818.0,427.78 2820.0,429.45 2822.0,430.99 C2824.0,432.52 2826.0,433.91 2828.0,434.99 C2830.0,436.08 2832.0,436.85 2834.0,437.15 C2836.0,437.46 2838.0,437.27 2840.0,436.49 C2842.0,435.71 2844.0,434.38 2846.0,432.62 C2848.0,430.86 2850.0,428.68 2852.0,426.21 C2854.0,423.73 2856.0,420.94 2858.0,418.04 C2860.0,415.15 2862.0,412.19 2864.0,409.71 C2866.0,407.23 2868.0,405.30 2870.0,404.06 C2872.0,402.82 2874.0,402.20 2876.0,402.07 C2878.0,401.95 2880.0,402.31 2882.0,403.05 C2884.0,403.78 2886.0,404.88 2888.0,406.22 C2890.0,407.56 2892.0,409.13 2894.0,410.82 C2896.0,412.51 2898.0,414.30 2900.0,416.07 C2902.0,417.85 2904.0,419.60 2906.0,421.20 C2908.0,422.79 2910.0,424.24 2912.0,425.40 C2914.0,426.56 2916.0,427.44 2918.0,427.91 C2920.0,428.38 2922.0,428.39 2924.0,427.99 C2926.0,427.59 2928.0,426.79 2930.0,425.71 C2932.0,424.64 2934.0,423.29 2936.0,421.78 C2938.0,420.28 2940.0,418.63 2942.0,416.94 C2944.0,415.25 2946.0,413.54 2948.0,411.91 C2950.0,410.28 2952.0,408.75 2954.0,407.42 C2956.0,406.09 2958.0,404.95 2960.0,404.09 C2962.0,403.22 2964.0,402.64 2966.0,402.41 C2968.0,402.19 2970.0,402.34 2972.0,402.81 C2974.0,403.27 2976.0,404.05 2978.0,405.05 C2980.0,406.05 2982.0,407.27 2984.0,408.64 C2986.0,410.00 2988.0,411.52 2990.0,413.17 C2992.0,414.83 2994.0,416.62 2996.0,418.53 C2998.0,420.44 3000.0,422.47 3002.0,424.61 C3004.0,426.74 3006.0,428.99 3008.0,431.32 C3010.0,433.66 3012.0,436.08 3014.0,438.59 C3016.0,441.09 3018.0,443.67 3020.0,446.31 C3020.8,447.33 3021.5,448.35 3022.3,449.39" fill="none" stroke="#79ee50" stroke-width="3" stroke-linejoin="round"/><path d="M2023.99,357.84 C2026.0,357.12 2028.0,356.34 2030.0,355.51 C2032.0,354.69 2034.0,353.82 2036.0,352.93 C2038.0,352.03 2040.0,351.12 2042.0,350.20 C2044.0,349.28 2046.0,348.36 2048.0,347.46 C2050.0,346.57 2052.0,345.69 2054.0,344.85 C2056.0,344.01 2058.0,343.22 2060.0,342.48 C2062.0,341.75 2064.0,341.08 2066.0,340.49 C2068.0,339.91 2070.0,339.40 2072.0,339.01 C2074.0,338.61 2076.0,338.32 2078.0,338.16 C2080.0,337.99 2082.0,337.96 2084.0,338.07 C2086.0,338.18 2088.0,338.44 2090.0,338.87 C2092.0,339.30 2094.0,339.91 2096.0,340.68 C2098.0,341.44 2100.0,342.36 2102.0,343.35 C2104.0,344.35 2106.0,345.44 2108.0,346.55 C2110.0,347.65 2112.0,348.79 2114.0,349.88 C2116.0,350.98 2118.0,352.04 2120.0,352.99 C2122.0,353.95 2124.0,354.80 2126.0,355.53 C2128.0,356.25 2130.0,356.88 2132.0,357.46 C2134.0,358.04 2136.0,358.58 2138.0,359.14 C2140.0,359.70 2142.0,360.28 2144.0,360.94 C2146.0,361.61 2148.0,362.37 2150.0,363.20 C2152.0,364.02 2154.0,364.92 2156.0,365.85 C2158.0,366.77 2160.0,367.73 2162.0,368.69 C2164.0,369.65 2166.0,370.60 2168.0,371.52 C2170.0,372.44 2172.0,373.32 2174.0,374.14 C2176.0,374.95 2178.0,375.69 2180.0,376.33 C2182.0,376.97 2184.0,377.50 2186.0,377.89 C2188.0,378.28 2190.0,378.54 2192.0,378.62 C2194.0,378.70 2196.0,378.60 2198.0,378.30 C2200.0,378.00 2202.0,377.49 2204.0,376.74 C2206.0,375.99 2208.0,374.97 2210.0,373.77 C2212.0,372.57 2214.0,371.21 2216.0,369.80 C2218.0,368.38 2220.0,366.93 2222.0,365.56 C2224.0,364.19 2226.0,362.91 2228.0,361.83 C2230.0,360.76 2232.0,359.89 2234.0,359.37 C2236.0,358.85 2238.0,358.67 2240.0,358.93 C2242.0,359.20 2244.0,359.85 2246.0,360.79 C2248.0,361.72 2250.0,362.93 2252.0,364.29 C2254.0,365.64 2256.0,367.15 2258.0,368.69 C2260.0,370.22 2262.0,371.77 2264.0,373.29 C2266.0,374.81 2268.0,376.31 2270.0,377.78 C2272.0,379.25 2274.0,380.69 2276.0,382.09 C2278.0,383.49 2280.0,384.86 2282.0,386.09 C2284.0,387.31 2286.0,388.38 2288.0,389.14 C2290.0,389.91 2292.0,390.37 2294.0,390.39 C2296.0,390.41 2298.0,389.96 2300.0,389.15 C2302.0,388.35 2304.0,387.18 2306.0,385.79 C2308.0,384.39 2310.0,382.76 2312.0,381.02 C2314.0,379.28 2316.0,377.42 2318.0,375.58 C2320.0,373.74 2322.0,371.90 2324.0,370.20 C2326.0,368.50 2328.0,366.93 2330.0,365.61 C2332.0,364.30 2334.0,363.22 2336.0,362.38 C2338.0,361.53 2340.0,360.92 2342.0,360.52 C2344.0,360.13 2346.0,359.94 2348.0,359.97 C2350.0,359.99 2352.0,360.21 2354.0,360.62 C2356.0,361.03 2358.0,361.63 2360.0,362.40 C2362.0,363.18 2364.0,364.13 2366.0,365.23 C2368.0,366.34 2370.0,367.58 2372.0,368.91 C2374.0,370.23 2376.0,371.62 2378.0,373.01 C2380.0,374.40 2382.0,375.79 2384.0,377.11 C2386.0,378.42 2388.0,379.66 2390.0,380.75 C2392.0,381.84 2394.0,382.78 2396.0,383.50 C2398.0,384.22 2400.0,384.72 2402.0,384.93 C2404.0,385.13 2406.0,385.02 2408.0,384.61 C2410.0,384.19 2412.0,383.48 2414.0,382.47 C2416.0,381.46 2418.0,380.17 2420.0,378.61 C2422.0,377.04 2424.0,375.18 2426.0,373.26 C2428.0,371.34 2430.0,369.37 2432.0,367.62 C2434.0,365.88 2436.0,364.40 2438.0,363.25 C2440.0,362.10 2442.0,361.25 2444.0,360.67 C2446.0,360.09 2448.0,359.77 2450.0,359.69 C2452.0,359.61 2454.0,359.76 2456.0,360.11 C2458.0,360.46 2460.0,361.01 2462.0,361.72 C2464.0,362.44 2466.0,363.32 2468.0,364.32 C2470.0,365.32 2472.0,366.44 2474.0,367.59 C2476.0,368.75 2478.0,369.94 2480.0,371.11 C2482.0,372.28 2484.0,373.41 2486.0,374.45 C2488.0,375.48 2490.0,376.42 2492.0,377.18 C2494.0,377.94 2496.0,378.53 2498.0,378.87 C2500.0,379.22 2502.0,379.30 2504.0,379.12 C2506.0,378.95 2508.0,378.53 2510.0,377.93 C2512.0,377.34 2514.0,376.58 2516.0,375.72 C2518.0,374.86 2520.0,373.90 2522.0,372.91 C2524.0,371.91 2526.0,370.87 2528.0,369.83 C2530.0,368.79 2532.0,367.74 2534.0,366.74 C2536.0,365.73 2538.0,364.77 2540.0,363.88 C2542.0,363.00 2544.0,362.20 2546.0,361.52 C2548.0,360.84 2550.0,360.29 2552.0,359.90 C2554.0,359.51 2556.0,359.30 2558.0,359.27 C2560.0,359.25 2562.0,359.40 2564.0,359.68 C2566.0,359.97 2568.0,360.39 2570.0,360.90 C2572.0,361.41 2574.0,362.01 2576.0,362.65 C2578.0,363.30 2580.0,363.99 2582.0,364.68 C2584.0,365.38 2586.0,366.07 2588.0,366.73 C2590.0,367.38 2592.0,367.99 2594.0,368.52 C2596.0,369.05 2598.0,369.51 2600.0,369.88 C2602.0,370.26 2604.0,370.56 2606.0,370.77 C2608.0,370.98 2610.0,371.12 2612.0,371.16 C2614.0,371.21 2616.0,371.17 2618.0,371.05 C2620.0,370.92 2622.0,370.71 2624.0,370.40 C2626.0,370.10 2628.0,369.70 2630.0,369.21 C2632.0,368.72 2634.0,368.12 2636.0,367.46 C2638.0,366.80 2640.0,366.08 2642.0,365.34 C2644.0,364.60 2646.0,363.84 2648.0,363.11 C2650.0,362.38 2652.0,361.68 2654.0,361.06 C2656.0,360.43 2658.0,359.88 2660.0,359.44 C2662.0,359.01 2664.0,358.70 2666.0,358.55 C2668.0,358.40 2670.0,358.42 2672.0,358.65 C2674.0,358.88 2676.0,359.32 2678.0,360.00 C2680.0,360.68 2682.0,361.59 2684.0,362.76 C2686.0,363.92 2688.0,365.35 2690.0,366.95 C2692.0,368.56 2694.0,370.31 2696.0,372.05 C2698.0,373.79 2700.0,375.50 2702.0,377.07 C2704.0,378.64 2706.0,380.07 2708.0,381.27 C2710.0,382.47 2712.0,383.45 2714.0,384.12 C2716.0,384.78 2718.0,385.12 2720.0,385.09 C2722.0,385.06 2724.0,384.70 2726.0,384.08 C2728.0,383.46 2730.0,382.58 2732.0,381.54 C2734.0,380.50 2736.0,379.29 2738.0,378.01 C2740.0,376.72 2742.0,375.34 2744.0,373.95 C2746.0,372.56 2748.0,371.15 2750.0,369.78 C2752.0,368.40 2754.0,367.08 2756.0,365.85 C2758.0,364.62 2760.0,363.50 2762.0,362.55 C2764.0,361.59 2766.0,360.80 2768.0,360.24 C2770.0,359.67 2772.0,359.34 2774.0,359.29 C2776.0,359.25 2778.0,359.48 2780.0,359.94 C2782.0,360.41 2784.0,361.10 2786.0,361.97 C2788.0,362.83 2790.0,363.87 2792.0,365.04 C2794.0,366.20 2796.0,367.49 2798.0,368.85 C2800.0,370.22 2802.0,371.68 2804.0,373.19 C2806.0,374.70 2808.0,376.28 2810.0,377.89 C2812.0,379.51 2814.0,381.15 2816.0,382.82 C2818.0,384.48 2820.0,386.15 2822.0,387.69 C2824.0,389.22 2826.0,390.61 2828.0,391.69 C2830.0,392.78 2832.0,393.55 2834.0,393.85 C2836.0,394.16 2838.0,393.97 2840.0,393.19 C2842.0,392.41 2844.0,391.08 2846.0,389.32 C2848.0,387.56 2850.0,385.38 2852.0,382.91 C2854.0,380.43 2856.0,377.64 2858.0,374.74 C2860.0,371.85 2862.0,368.89 2864.0,366.41 C2866.0,363.93 2868.0,362.00 2870.0,360.76 C2872.0,359.52 2874.0,358.90 2876.0,358.77 C2878.0,358.65 2880.0,359.01 2882.0,359.75 C2884.0,360.48 2886.0,361.58 2888.0,362.92 C2890.0,364.26 2892.0,365.83 2894.0,367.52 C2896.0,369.21 2898.0,371.00 2900.0,372.77 C2902.0,374.55 2904.0,376.30 2906.0,377.90 C2908.0,379.49 2910.0,380.94 2912.0,382.10 C2914.0,383.26 2916.0,384.14 2918.0,384.61 C2920.0,385.08 2922.0,385.09 2924.0,384.69 C2926.0,384.29 2928.0,383.49 2930.0,382.41 C2932.0,381.34 2934.0,379.99 2936.0,378.48 C2938.0,376.98 2940.0,375.33 2942.0,373.64 C2944.0,371.95 2946.0,370.24 2948.0,368.61 C2950.0,366.98 2952.0,365.45 2954.0,364.12 C2956.0,362.79 2958.0,361.65 2960.0,360.79 C2962.0,359.92 2964.0,359.34 2966.0,359.11 C2968.0,358.89 2970.0,359.04 2972.0,359.51 C2974.0,359.97 2976.0,360.75 2978.0,361.75 C2980.0,362.75 2982.0,363.97 2984.0,365.34 C2986.0,366.70 2988.0,368.22 2990.0,369.87 C2992.0,371.53 2994.0,373.32 2996.0,375.23 C2998.0,377.14 3000.0,379.17 3002.0,381.31 C3004.0,383.44 3006.0,385.69 3008.0,388.02 C3010.0,390.36 3012.0,392.78 3014.0,395.29 C3016.0,397.79 3018.0,400.37 3020.0,403.01 C3020.8,404.03 3021.5,405.05 3022.3,406.09" fill="none" stroke="#f8f050" stroke-width="3" stroke-linejoin="round"/><path d="M2024.80,1407.00 C2026.8,1405.96 2028.8,1404.92 2030.8,1403.89 C2032.8,1402.86 2034.8,1401.84 2036.8,1400.85 C2038.8,1399.86 2040.8,1398.89 2042.8,1397.96 C2044.8,1397.03 2046.8,1396.14 2048.8,1395.30 C2050.8,1394.45 2052.8,1393.66 2054.8,1392.93 C2056.8,1392.19 2058.8,1391.52 2060.8,1390.93 C2062.8,1390.33 2064.8,1389.81 2066.8,1389.37 C2068.8,1388.94 2070.8,1388.59 2072.8,1388.34 C2074.8,1388.08 2076.8,1387.93 2078.8,1387.88 C2080.8,1387.83 2082.8,1387.88 2084.8,1388.05 C2086.8,1388.23 2088.8,1388.51 2090.8,1388.92 C2092.8,1389.34 2094.8,1389.87 2096.8,1390.55 C2098.8,1391.22 2100.8,1392.03 2102.8,1392.92 C2104.8,1393.82 2106.8,1394.80 2108.8,1395.81 C2110.8,1396.83 2112.8,1397.87 2114.8,1398.90 C2116.8,1399.93 2118.8,1400.94 2120.8,1401.88 C2122.8,1402.82 2124.8,1403.68 2126.8,1404.43 C2128.8,1405.17 2130.8,1405.80 2132.8,1406.26 C2134.8,1406.72 2136.8,1407.00 2138.8,1407.08 C2140.8,1407.16 2142.8,1407.04 2144.8,1406.77 C2146.8,1406.50 2148.8,1406.08 2150.8,1405.57 C2152.8,1405.06 2154.8,1404.45 2156.8,1403.80 C2158.8,1403.14 2160.8,1402.44 2162.8,1401.73 C2164.8,1401.03 2166.8,1400.32 2168.8,1399.64 C2170.8,1398.96 2172.8,1398.33 2174.8,1397.76 C2176.8,1397.20 2178.8,1396.72 2180.8,1396.36 C2182.8,1396.00 2184.8,1395.76 2186.8,1395.68 C2188.8,1395.61 2190.8,1395.71 2192.8,1395.96 C2194.8,1396.21 2196.8,1396.60 2198.8,1397.09 C2200.8,1397.59 2202.8,1398.18 2204.8,1398.83 C2206.8,1399.48 2208.8,1400.19 2210.8,1400.90 C2212.8,1401.62 2214.8,1402.34 2216.8,1403.03 C2218.8,1403.72 2220.8,1404.38 2222.8,1404.95 C2224.8,1405.53 2226.8,1406.02 2228.8,1406.43 C2230.8,1406.84 2232.8,1407.18 2234.8,1407.46 C2236.8,1407.74 2238.8,1407.95 2240.8,1408.11 C2242.8,1408.28 2244.8,1408.39 2246.8,1408.46 C2248.8,1408.53 2250.8,1408.57 2252.8,1408.57 C2254.8,1408.58 2256.8,1408.56 2258.8,1408.52 C2260.8,1408.48 2262.8,1408.43 2264.8,1408.38 C2266.8,1408.32 2268.8,1408.26 2270.8,1408.21 C2272.8,1408.16 2274.8,1408.11 2276.8,1408.07 C2278.8,1408.03 2280.8,1408.00 2282.8,1407.97 C2284.8,1407.95 2286.8,1407.92 2288.8,1407.91 C2290.8,1407.89 2292.8,1407.88 2294.8,1407.87 C2296.8,1407.86 2298.8,1407.86 2300.8,1407.86 C2302.8,1407.86 2304.8,1407.86 2306.8,1407.87 C2308.8,1407.88 2310.8,1407.89 2312.8,1407.91 C2314.8,1407.92 2316.8,1407.94 2318.8,1407.96 C2320.8,1407.99 2322.8,1408.01 2324.8,1408.04 C2326.8,1408.07 2328.8,1408.09 2330.8,1408.13 C2332.8,1408.16 2334.8,1408.19 2336.8,1408.23 C2338.8,1408.27 2340.8,1408.31 2342.8,1408.38 C2344.8,1408.44 2346.8,1408.52 2348.8,1408.62 C2350.8,1408.72 2352.8,1408.85 2354.8,1409.01 C2356.8,1409.17 2358.8,1409.37 2360.8,1409.60 C2362.8,1409.84 2364.8,1410.12 2366.8,1410.45 C2368.8,1410.78 2370.8,1411.16 2372.8,1411.60 C2374.8,1412.03 2376.8,1412.54 2378.8,1413.06 C2380.8,1413.57 2382.8,1414.11 2384.8,1414.62 C2386.8,1415.13 2388.8,1415.61 2390.8,1416.02 C2392.8,1416.43 2394.8,1416.76 2396.8,1416.99 C2398.8,1417.22 2400.8,1417.35 2402.8,1417.34 C2404.8,1417.33 2406.8,1417.18 2408.8,1416.88 C2410.8,1416.59 2412.8,1416.16 2414.8,1415.66 C2416.8,1415.16 2418.8,1414.58 2420.8,1413.99 C2422.8,1413.39 2424.8,1412.78 2426.8,1412.20 C2428.8,1411.62 2430.8,1411.07 2432.8,1410.57 C2434.8,1410.08 2436.8,1409.65 2438.8,1409.30 C2440.8,1408.95 2442.8,1408.68 2444.8,1408.53 C2446.8,1408.39 2448.8,1408.35 2450.8,1408.46 C2452.8,1408.57 2454.8,1408.82 2456.8,1409.24 C2458.8,1409.67 2460.8,1410.26 2462.8,1411.06 C2464.8,1411.85 2466.8,1412.82 2468.8,1413.90 C2470.8,1414.98 2472.8,1416.16 2474.8,1417.38 C2476.8,1418.59 2478.8,1419.83 2480.8,1421.03 C2482.8,1422.22 2484.8,1423.37 2486.8,1424.39 C2488.8,1425.41 2490.8,1426.30 2492.8,1426.99 C2494.8,1427.68 2496.8,1428.16 2498.8,1428.39 C2500.8,1428.62 2502.8,1428.65 2504.8,1428.58 C2506.8,1428.51 2508.8,1428.35 2510.8,1428.23 C2512.8,1428.10 2514.8,1428.01 2516.8,1427.96 C2518.8,1427.91 2520.8,1427.89 2522.8,1427.90 C2524.8,1427.90 2526.8,1427.93 2528.8,1427.98 C2530.8,1428.03 2532.8,1428.09 2534.8,1428.15 C2536.8,1428.21 2538.8,1428.28 2540.8,1428.34 C2542.8,1428.40 2544.8,1428.46 2546.8,1428.50 C2548.8,1428.53 2550.8,1428.56 2552.8,1428.55 C2554.8,1428.54 2556.8,1428.51 2558.8,1428.44 C2560.8,1428.38 2562.8,1428.27 2564.8,1428.12 C2566.8,1427.96 2568.8,1427.76 2570.8,1427.51 C2572.8,1427.25 2574.8,1426.93 2576.8,1426.58 C2578.8,1426.23 2580.8,1425.84 2582.8,1425.42 C2584.8,1425.01 2586.8,1424.58 2588.8,1424.14 C2590.8,1423.71 2592.8,1423.27 2594.8,1422.85 C2596.8,1422.43 2598.8,1422.02 2600.8,1421.65 C2602.8,1421.28 2604.8,1420.94 2606.8,1420.65 C2608.8,1420.37 2610.8,1420.14 2612.8,1419.97 C2614.8,1419.79 2616.8,1419.65 2618.8,1419.50 C2620.8,1419.35 2622.8,1419.19 2624.8,1418.97 C2626.8,1418.75 2628.8,1418.46 2630.8,1418.10 C2632.8,1417.73 2634.8,1417.31 2636.8,1416.85 C2638.8,1416.40 2640.8,1415.91 2642.8,1415.43 C2644.8,1414.95 2646.8,1414.47 2648.8,1414.02 C2650.8,1413.57 2652.8,1413.16 2654.8,1412.81 C2656.8,1412.47 2658.8,1412.19 2660.8,1412.01 C2662.8,1411.83 2664.8,1411.75 2666.8,1411.80 C2668.8,1411.85 2670.8,1412.03 2672.8,1412.38 C2674.8,1412.72 2676.8,1413.23 2678.8,1413.88 C2680.8,1414.52 2682.8,1415.31 2684.8,1416.20 C2686.8,1417.09 2688.8,1418.10 2690.8,1419.19 C2692.8,1420.28 2694.8,1421.45 2696.8,1422.69 C2698.8,1423.92 2700.8,1425.23 2702.8,1426.51 C2704.8,1427.78 2706.8,1429.02 2708.8,1430.09 C2710.8,1431.16 2712.8,1432.06 2714.8,1432.67 C2716.8,1433.27 2718.8,1433.56 2720.8,1433.46 C2722.8,1433.37 2724.8,1432.92 2726.8,1432.21 C2728.8,1431.50 2730.8,1430.53 2732.8,1429.37 C2734.8,1428.22 2736.8,1426.88 2738.8,1425.46 C2740.8,1424.03 2742.8,1422.51 2744.8,1421.00 C2746.8,1419.49 2748.8,1418.00 2750.8,1416.61 C2752.8,1415.23 2754.8,1413.98 2756.8,1412.92 C2758.8,1411.87 2760.8,1411.00 2762.8,1410.29 C2764.8,1409.58 2766.8,1409.03 2768.8,1408.61 C2770.8,1408.20 2772.8,1407.91 2774.8,1407.73 C2776.8,1407.55 2778.8,1407.47 2780.8,1407.48 C2782.8,1407.48 2784.8,1407.56 2786.8,1407.69 C2788.8,1407.83 2790.8,1408.01 2792.8,1408.22 C2794.8,1408.43 2796.8,1408.66 2798.8,1408.89 C2800.8,1409.12 2802.8,1409.35 2804.8,1409.55 C2806.8,1409.75 2808.8,1409.92 2810.8,1410.08 C2812.8,1410.23 2814.8,1410.37 2816.8,1410.47 C2818.8,1410.58 2820.8,1410.67 2822.8,1410.74 C2824.8,1410.80 2826.8,1410.84 2828.8,1410.86 C2830.8,1410.88 2832.8,1410.87 2834.8,1410.84 C2836.8,1410.82 2838.8,1410.76 2840.8,1410.69 C2842.8,1410.61 2844.8,1410.52 2846.8,1410.39 C2848.8,1410.27 2850.8,1410.12 2852.8,1409.96 C2854.8,1409.79 2856.8,1409.60 2858.8,1409.42 C2860.8,1409.24 2862.8,1409.06 2864.8,1408.90 C2866.8,1408.75 2868.8,1408.61 2870.8,1408.52 C2872.8,1408.43 2874.8,1408.39 2876.8,1408.40 C2878.8,1408.42 2880.8,1408.50 2882.8,1408.67 C2884.8,1408.84 2886.8,1409.09 2888.8,1409.45 C2890.8,1409.80 2892.8,1410.28 2894.8,1410.84 C2896.8,1411.40 2898.8,1412.04 2900.8,1412.65 C2902.8,1413.25 2904.8,1413.84 2906.8,1414.30 C2908.8,1414.76 2910.8,1415.08 2912.8,1415.29 C2914.8,1415.49 2916.8,1415.57 2918.8,1415.56 C2920.8,1415.54 2922.8,1415.43 2924.8,1415.25 C2926.8,1415.06 2928.8,1414.80 2930.8,1414.49 C2932.8,1414.17 2934.8,1413.81 2936.8,1413.41 C2938.8,1413.01 2940.8,1412.59 2942.8,1412.15 C2944.8,1411.72 2946.8,1411.27 2948.8,1410.85 C2950.8,1410.42 2952.8,1410.00 2954.8,1409.63 C2956.8,1409.25 2958.8,1408.91 2960.8,1408.63 C2962.8,1408.34 2964.8,1408.12 2966.8,1407.98 C2968.8,1407.84 2970.8,1407.78 2972.8,1407.80 C2974.8,1407.82 2976.8,1407.90 2978.8,1408.04 C2980.8,1408.19 2982.8,1408.38 2984.8,1408.61 C2986.8,1408.84 2988.8,1409.10 2990.8,1409.38 C2992.8,1409.66 2994.8,1409.95 2996.8,1410.25 C2998.8,1410.54 3000.8,1410.83 3002.8,1411.11 C3004.8,1411.38 3006.8,1411.63 3008.8,1411.84 C3010.8,1412.06 3012.8,1412.23 3014.8,1412.35 C3016.8,1412.47 3018.8,1412.53 3020.8,1412.52 C3021.4,1412.51 3022.1,1412.50 3022.7,1412.48" fill="none" stroke="#bb33f2" stroke-width="3" stroke-linejoin="round"/><path d="M2024.80,1330.50 C2026.8,1329.46 2028.8,1328.42 2030.8,1327.39 C2032.8,1326.36 2034.8,1325.34 2036.8,1324.35 C2038.8,1323.36 2040.8,1322.39 2042.8,1321.46 C2044.8,1320.53 2046.8,1319.64 2048.8,1318.80 C2050.8,1317.95 2052.8,1317.16 2054.8,1316.43 C2056.8,1315.69 2058.8,1315.02 2060.8,1314.43 C2062.8,1313.83 2064.8,1313.31 2066.8,1312.87 C2068.8,1312.44 2070.8,1312.09 2072.8,1311.84 C2074.8,1311.58 2076.8,1311.43 2078.8,1311.38 C2080.8,1311.33 2082.8,1311.38 2084.8,1311.55 C2086.8,1311.73 2088.8,1312.01 2090.8,1312.42 C2092.8,1312.84 2094.8,1313.37 2096.8,1314.05 C2098.8,1314.72 2100.8,1315.53 2102.8,1316.42 C2104.8,1317.32 2106.8,1318.30 2108.8,1319.31 C2110.8,1320.33 2112.8,1321.37 2114.8,1322.40 C2116.8,1323.43 2118.8,1324.44 2120.8,1325.38 C2122.8,1326.32 2124.8,1327.18 2126.8,1327.93 C2128.8,1328.67 2130.8,1329.30 2132.8,1329.76 C2134.8,1330.22 2136.8,1330.50 2138.8,1330.58 C2140.8,1330.66 2142.8,1330.54 2144.8,1330.27 C2146.8,1330.00 2148.8,1329.58 2150.8,1329.07 C2152.8,1328.56 2154.8,1327.95 2156.8,1327.30 C2158.8,1326.64 2160.8,1325.94 2162.8,1325.23 C2164.8,1324.53 2166.8,1323.82 2168.8,1323.14 C2170.8,1322.46 2172.8,1321.83 2174.8,1321.26 C2176.8,1320.70 2178.8,1320.22 2180.8,1319.86 C2182.8,1319.50 2184.8,1319.26 2186.8,1319.18 C2188.8,1319.11 2190.8,1319.21 2192.8,1319.46 C2194.8,1319.71 2196.8,1320.10 2198.8,1320.59 C2200.8,1321.09 2202.8,1321.68 2204.8,1322.33 C2206.8,1322.98 2208.8,1323.69 2210.8,1324.40 C2212.8,1325.12 2214.8,1325.84 2216.8,1326.53 C2218.8,1327.22 2220.8,1327.88 2222.8,1328.45 C2224.8,1329.03 2226.8,1329.52 2228.8,1329.93 C2230.8,1330.34 2232.8,1330.68 2234.8,1330.96 C2236.8,1331.24 2238.8,1331.45 2240.8,1331.61 C2242.8,1331.78 2244.8,1331.89 2246.8,1331.96 C2248.8,1332.03 2250.8,1332.07 2252.8,1332.07 C2254.8,1332.08 2256.8,1332.06 2258.8,1332.02 C2260.8,1331.98 2262.8,1331.93 2264.8,1331.88 C2266.8,1331.82 2268.8,1331.76 2270.8,1331.71 C2272.8,1331.66 2274.8,1331.61 2276.8,1331.57 C2278.8,1331.53 2280.8,1331.50 2282.8,1331.47 C2284.8,1331.45 2286.8,1331.42 2288.8,1331.41 C2290.8,1331.39 2292.8,1331.38 2294.8,1331.37 C2296.8,1331.36 2298.8,1331.36 2300.8,1331.36 C2302.8,1331.36 2304.8,1331.36 2306.8,1331.37 C2308.8,1331.38 2310.8,1331.39 2312.8,1331.41 C2314.8,1331.42 2316.8,1331.44 2318.8,1331.46 C2320.8,1331.49 2322.8,1331.51 2324.8,1331.54 C2326.8,1331.57 2328.8,1331.59 2330.8,1331.63 C2332.8,1331.66 2334.8,1331.69 2336.8,1331.73 C2338.8,1331.77 2340.8,1331.81 2342.8,1331.88 C2344.8,1331.94 2346.8,1332.02 2348.8,1332.12 C2350.8,1332.22 2352.8,1332.35 2354.8,1332.51 C2356.8,1332.67 2358.8,1332.87 2360.8,1333.10 C2362.8,1333.34 2364.8,1333.62 2366.8,1333.95 C2368.8,1334.28 2370.8,1334.66 2372.8,1335.10 C2374.8,1335.53 2376.8,1336.04 2378.8,1336.56 C2380.8,1337.07 2382.8,1337.61 2384.8,1338.12 C2386.8,1338.63 2388.8,1339.11 2390.8,1339.52 C2392.8,1339.93 2394.8,1340.26 2396.8,1340.49 C2398.8,1340.72 2400.8,1340.85 2402.8,1340.84 C2404.8,1340.83 2406.8,1340.68 2408.8,1340.38 C2410.8,1340.09 2412.8,1339.66 2414.8,1339.16 C2416.8,1338.66 2418.8,1338.08 2420.8,1337.49 C2422.8,1336.89 2424.8,1336.28 2426.8,1335.70 C2428.8,1335.12 2430.8,1334.57 2432.8,1334.07 C2434.8,1333.58 2436.8,1333.15 2438.8,1332.80 C2440.8,1332.45 2442.8,1332.18 2444.8,1332.03 C2446.8,1331.89 2448.8,1331.85 2450.8,1331.96 C2452.8,1332.07 2454.8,1332.32 2456.8,1332.74 C2458.8,1333.17 2460.8,1333.76 2462.8,1334.56 C2464.8,1335.35 2466.8,1336.32 2468.8,1337.40 C2470.8,1338.48 2472.8,1339.66 2474.8,1340.88 C2476.8,1342.09 2478.8,1343.33 2480.8,1344.53 C2482.8,1345.72 2484.8,1346.87 2486.8,1347.89 C2488.8,1348.91 2490.8,1349.80 2492.8,1350.49 C2494.8,1351.18 2496.8,1351.66 2498.8,1351.89 C2500.8,1352.12 2502.8,1352.15 2504.8,1352.08 C2506.8,1352.01 2508.8,1351.85 2510.8,1351.73 C2512.8,1351.60 2514.8,1351.51 2516.8,1351.46 C2518.8,1351.41 2520.8,1351.39 2522.8,1351.40 C2524.8,1351.40 2526.8,1351.43 2528.8,1351.48 C2530.8,1351.53 2532.8,1351.59 2534.8,1351.65 C2536.8,1351.71 2538.8,1351.78 2540.8,1351.84 C2542.8,1351.90 2544.8,1351.96 2546.8,1352.00 C2548.8,1352.03 2550.8,1352.06 2552.8,1352.05 C2554.8,1352.04 2556.8,1352.01 2558.8,1351.94 C2560.8,1351.88 2562.8,1351.77 2564.8,1351.62 C2566.8,1351.46 2568.8,1351.26 2570.8,1351.01 C2572.8,1350.75 2574.8,1350.43 2576.8,1350.08 C2578.8,1349.73 2580.8,1349.34 2582.8,1348.92 C2584.8,1348.51 2586.8,1348.08 2588.8,1347.64 C2590.8,1347.21 2592.8,1346.77 2594.8,1346.35 C2596.8,1345.93 2598.8,1345.52 2600.8,1345.15 C2602.8,1344.78 2604.8,1344.44 2606.8,1344.15 C2608.8,1343.87 2610.8,1343.64 2612.8,1343.47 C2614.8,1343.29 2616.8,1343.15 2618.8,1343.00 C2620.8,1342.85 2622.8,1342.69 2624.8,1342.47 C2626.8,1342.25 2628.8,1341.96 2630.8,1341.60 C2632.8,1341.23 2634.8,1340.81 2636.8,1340.35 C2638.8,1339.90 2640.8,1339.41 2642.8,1338.93 C2644.8,1338.45 2646.8,1337.97 2648.8,1337.52 C2650.8,1337.07 2652.8,1336.66 2654.8,1336.31 C2656.8,1335.97 2658.8,1335.69 2660.8,1335.51 C2662.8,1335.33 2664.8,1335.25 2666.8,1335.30 C2668.8,1335.35 2670.8,1335.53 2672.8,1335.88 C2674.8,1336.22 2676.8,1336.73 2678.8,1337.38 C2680.8,1338.02 2682.8,1338.81 2684.8,1339.70 C2686.8,1340.59 2688.8,1341.60 2690.8,1342.69 C2692.8,1343.78 2694.8,1344.95 2696.8,1346.19 C2698.8,1347.42 2700.8,1348.73 2702.8,1350.01 C2704.8,1351.28 2706.8,1352.52 2708.8,1353.59 C2710.8,1354.66 2712.8,1355.56 2714.8,1356.17 C2716.8,1356.77 2718.8,1357.06 2720.8,1356.96 C2722.8,1356.87 2724.8,1356.42 2726.8,1355.71 C2728.8,1355.00 2730.8,1354.03 2732.8,1352.87 C2734.8,1351.72 2736.8,1350.38 2738.8,1348.96 C2740.8,1347.53 2742.8,1346.01 2744.8,1344.50 C2746.8,1342.99 2748.8,1341.50 2750.8,1340.11 C2752.8,1338.73 2754.8,1337.48 2756.8,1336.42 C2758.8,1335.37 2760.8,1334.50 2762.8,1333.79 C2764.8,1333.08 2766.8,1332.53 2768.8,1332.11 C2770.8,1331.70 2772.8,1331.41 2774.8,1331.23 C2776.8,1331.05 2778.8,1330.97 2780.8,1330.98 C2782.8,1330.98 2784.8,1331.06 2786.8,1331.19 C2788.8,1331.33 2790.8,1331.51 2792.8,1331.72 C2794.8,1331.93 2796.8,1332.16 2798.8,1332.39 C2800.8,1332.62 2802.8,1332.85 2804.8,1333.05 C2806.8,1333.25 2808.8,1333.42 2810.8,1333.58 C2812.8,1333.73 2814.8,1333.87 2816.8,1333.97 C2818.8,1334.08 2820.8,1334.17 2822.8,1334.24 C2824.8,1334.30 2826.8,1334.34 2828.8,1334.36 C2830.8,1334.38 2832.8,1334.37 2834.8,1334.34 C2836.8,1334.32 2838.8,1334.26 2840.8,1334.19 C2842.8,1334.11 2844.8,1334.02 2846.8,1333.89 C2848.8,1333.77 2850.8,1333.62 2852.8,1333.46 C2854.8,1333.29 2856.8,1333.10 2858.8,1332.92 C2860.8,1332.74 2862.8,1332.56 2864.8,1332.40 C2866.8,1332.25 2868.8,1332.11 2870.8,1332.02 C2872.8,1331.93 2874.8,1331.89 2876.8,1331.90 C2878.8,1331.92 2880.8,1332.00 2882.8,1332.17 C2884.8,1332.34 2886.8,1332.59 2888.8,1332.95 C2890.8,1333.30 2892.8,1333.78 2894.8,1334.34 C2896.8,1334.90 2898.8,1335.54 2900.8,1336.15 C2902.8,1336.75 2904.8,1337.34 2906.8,1337.80 C2908.8,1338.26 2910.8,1338.58 2912.8,1338.79 C2914.8,1338.99 2916.8,1339.07 2918.8,1339.06 C2920.8,1339.04 2922.8,1338.93 2924.8,1338.75 C2926.8,1338.56 2928.8,1338.30 2930.8,1337.99 C2932.8,1337.67 2934.8,1337.31 2936.8,1336.91 C2938.8,1336.51 2940.8,1336.09 2942.8,1335.65 C2944.8,1335.22 2946.8,1334.77 2948.8,1334.35 C2950.8,1333.92 2952.8,1333.50 2954.8,1333.13 C2956.8,1332.75 2958.8,1332.41 2960.8,1332.13 C2962.8,1331.84 2964.8,1331.62 2966.8,1331.48 C2968.8,1331.34 2970.8,1331.28 2972.8,1331.30 C2974.8,1331.32 2976.8,1331.40 2978.8,1331.54 C2980.8,1331.69 2982.8,1331.88 2984.8,1332.11 C2986.8,1332.34 2988.8,1332.60 2990.8,1332.88 C2992.8,1333.16 2994.8,1333.45 2996.8,1333.75 C2998.8,1334.04 3000.8,1334.33 3002.8,1334.61 C3004.8,1334.88 3006.8,1335.13 3008.8,1335.34 C3010.8,1335.56 3012.8,1335.73 3014.8,1335.85 C3016.8,1335.97 3018.8,1336.03 3020.8,1336.02 C3021.4,1336.01 3022.1,1336.00 3022.7,1335.98" fill="none" stroke="#4c6d21" stroke-width="3" stroke-linejoin="round"/><path d="M2023.99,1207.64 C2026.0,1206.92 2028.0,1206.14 2030.0,1205.31 C2032.0,1204.49 2034.0,1203.62 2036.0,1202.73 C2038.0,1201.83 2040.0,1200.92 2042.0,1200.00 C2044.0,1199.08 2046.0,1198.16 2048.0,1197.26 C2050.0,1196.37 2052.0,1195.49 2054.0,1194.65 C2056.0,1193.81 2058.0,1193.02 2060.0,1192.28 C2062.0,1191.55 2064.0,1190.88 2066.0,1190.29 C2068.0,1189.71 2070.0,1189.20 2072.0,1188.81 C2074.0,1188.41 2076.0,1188.12 2078.0,1187.96 C2080.0,1187.79 2082.0,1187.76 2084.0,1187.87 C2086.0,1187.98 2088.0,1188.24 2090.0,1188.67 C2092.0,1189.10 2094.0,1189.71 2096.0,1190.48 C2098.0,1191.24 2100.0,1192.16 2102.0,1193.15 C2104.0,1194.15 2106.0,1195.24 2108.0,1196.35 C2110.0,1197.45 2112.0,1198.59 2114.0,1199.68 C2116.0,1200.78 2118.0,1201.84 2120.0,1202.79 C2122.0,1203.75 2124.0,1204.60 2126.0,1205.33 C2128.0,1206.05 2130.0,1206.68 2132.0,1207.26 C2134.0,1207.84 2136.0,1208.38 2138.0,1208.94 C2140.0,1209.50 2142.0,1210.08 2144.0,1210.74 C2146.0,1211.41 2148.0,1212.17 2150.0,1213.00 C2152.0,1213.82 2154.0,1214.72 2156.0,1215.65 C2158.0,1216.57 2160.0,1217.53 2162.0,1218.49 C2164.0,1219.45 2166.0,1220.40 2168.0,1221.32 C2170.0,1222.24 2172.0,1223.12 2174.0,1223.94 C2176.0,1224.75 2178.0,1225.49 2180.0,1226.13 C2182.0,1226.77 2184.0,1227.30 2186.0,1227.69 C2188.0,1228.08 2190.0,1228.34 2192.0,1228.42 C2194.0,1228.50 2196.0,1228.40 2198.0,1228.10 C2200.0,1227.80 2202.0,1227.29 2204.0,1226.54 C2206.0,1225.79 2208.0,1224.77 2210.0,1223.57 C2212.0,1222.37 2214.0,1221.01 2216.0,1219.60 C2218.0,1218.18 2220.0,1216.73 2222.0,1215.36 C2224.0,1213.99 2226.0,1212.71 2228.0,1211.63 C2230.0,1210.56 2232.0,1209.69 2234.0,1209.17 C2236.0,1208.65 2238.0,1208.47 2240.0,1208.73 C2242.0,1209.00 2244.0,1209.65 2246.0,1210.59 C2248.0,1211.52 2250.0,1212.73 2252.0,1214.09 C2254.0,1215.44 2256.0,1216.95 2258.0,1218.49 C2260.0,1220.02 2262.0,1221.57 2264.0,1223.09 C2266.0,1224.61 2268.0,1226.11 2270.0,1227.58 C2272.0,1229.05 2274.0,1230.49 2276.0,1231.89 C2278.0,1233.29 2280.0,1234.66 2282.0,1235.89 C2284.0,1237.11 2286.0,1238.18 2288.0,1238.94 C2290.0,1239.71 2292.0,1240.17 2294.0,1240.19 C2296.0,1240.21 2298.0,1239.76 2300.0,1238.95 C2302.0,1238.15 2304.0,1236.98 2306.0,1235.59 C2308.0,1234.19 2310.0,1232.56 2312.0,1230.82 C2314.0,1229.08 2316.0,1227.22 2318.0,1225.38 C2320.0,1223.54 2322.0,1221.70 2324.0,1220.00 C2326.0,1218.30 2328.0,1216.73 2330.0,1215.41 C2332.0,1214.10 2334.0,1213.02 2336.0,1212.18 C2338.0,1211.33 2340.0,1210.72 2342.0,1210.32 C2344.0,1209.93 2346.0,1209.74 2348.0,1209.77 C2350.0,1209.79 2352.0,1210.01 2354.0,1210.42 C2356.0,1210.83 2358.0,1211.43 2360.0,1212.20 C2362.0,1212.98 2364.0,1213.93 2366.0,1215.03 C2368.0,1216.14 2370.0,1217.38 2372.0,1218.71 C2374.0,1220.03 2376.0,1221.42 2378.0,1222.81 C2380.0,1224.20 2382.0,1225.59 2384.0,1226.91 C2386.0,1228.22 2388.0,1229.46 2390.0,1230.55 C2392.0,1231.64 2394.0,1232.58 2396.0,1233.30 C2398.0,1234.02 2400.0,1234.52 2402.0,1234.73 C2404.0,1234.93 2406.0,1234.82 2408.0,1234.41 C2410.0,1233.99 2412.0,1233.28 2414.0,1232.27 C2416.0,1231.26 2418.0,1229.97 2420.0,1228.41 C2422.0,1226.84 2424.0,1224.98 2426.0,1223.06 C2428.0,1221.14 2430.0,1219.17 2432.0,1217.42 C2434.0,1215.68 2436.0,1214.20 2438.0,1213.05 C2440.0,1211.90 2442.0,1211.05 2444.0,1210.47 C2446.0,1209.89 2448.0,1209.57 2450.0,1209.49 C2452.0,1209.41 2454.0,1209.56 2456.0,1209.91 C2458.0,1210.26 2460.0,1210.81 2462.0,1211.52 C2464.0,1212.24 2466.0,1213.12 2468.0,1214.12 C2470.0,1215.12 2472.0,1216.24 2474.0,1217.39 C2476.0,1218.55 2478.0,1219.74 2480.0,1220.91 C2482.0,1222.08 2484.0,1223.21 2486.0,1224.25 C2488.0,1225.28 2490.0,1226.22 2492.0,1226.98 C2494.0,1227.74 2496.0,1228.33 2498.0,1228.67 C2500.0,1229.02 2502.0,1229.10 2504.0,1228.92 C2506.0,1228.75 2508.0,1228.33 2510.0,1227.73 C2512.0,1227.14 2514.0,1226.38 2516.0,1225.52 C2518.0,1224.66 2520.0,1223.70 2522.0,1222.71 C2524.0,1221.71 2526.0,1220.67 2528.0,1219.63 C2530.0,1218.59 2532.0,1217.54 2534.0,1216.54 C2536.0,1215.53 2538.0,1214.57 2540.0,1213.68 C2542.0,1212.80 2544.0,1212.00 2546.0,1211.32 C2548.0,1210.64 2550.0,1210.09 2552.0,1209.70 C2554.0,1209.31 2556.0,1209.10 2558.0,1209.07 C2560.0,1209.05 2562.0,1209.20 2564.0,1209.48 C2566.0,1209.77 2568.0,1210.19 2570.0,1210.70 C2572.0,1211.21 2574.0,1211.81 2576.0,1212.45 C2578.0,1213.10 2580.0,1213.79 2582.0,1214.48 C2584.0,1215.18 2586.0,1215.87 2588.0,1216.53 C2590.0,1217.18 2592.0,1217.79 2594.0,1218.32 C2596.0,1218.85 2598.0,1219.31 2600.0,1219.68 C2602.0,1220.06 2604.0,1220.36 2606.0,1220.57 C2608.0,1220.78 2610.0,1220.92 2612.0,1220.96 C2614.0,1221.01 2616.0,1220.97 2618.0,1220.85 C2620.0,1220.72 2622.0,1220.51 2624.0,1220.20 C2626.0,1219.90 2628.0,1219.50 2630.0,1219.01 C2632.0,1218.52 2634.0,1217.92 2636.0,1217.26 C2638.0,1216.60 2640.0,1215.88 2642.0,1215.14 C2644.0,1214.40 2646.0,1213.64 2648.0,1212.91 C2650.0,1212.18 2652.0,1211.48 2654.0,1210.86 C2656.0,1210.23 2658.0,1209.68 2660.0,1209.24 C2662.0,1208.81 2664.0,1208.50 2666.0,1208.35 C2668.0,1208.20 2670.0,1208.22 2672.0,1208.45 C2674.0,1208.68 2676.0,1209.12 2678.0,1209.80 C2680.0,1210.48 2682.0,1211.39 2684.0,1212.56 C2686.0,1213.72 2688.0,1215.15 2690.0,1216.75 C2692.0,1218.36 2694.0,1220.11 2696.0,1221.85 C2698.0,1223.59 2700.0,1225.30 2702.0,1226.87 C2704.0,1228.44 2706.0,1229.87 2708.0,1231.07 C2710.0,1232.27 2712.0,1233.25 2714.0,1233.92 C2716.0,1234.58 2718.0,1234.92 2720.0,1234.89 C2722.0,1234.86 2724.0,1234.50 2726.0,1233.88 C2728.0,1233.26 2730.0,1232.38 2732.0,1231.34 C2734.0,1230.30 2736.0,1229.09 2738.0,1227.81 C2740.0,1226.52 2742.0,1225.14 2744.0,1223.75 C2746.0,1222.36 2748.0,1220.95 2750.0,1219.58 C2752.0,1218.20 2754.0,1216.88 2756.0,1215.65 C2758.0,1214.42 2760.0,1213.30 2762.0,1212.35 C2764.0,1211.39 2766.0,1210.60 2768.0,1210.04 C2770.0,1209.47 2772.0,1209.14 2774.0,1209.09 C2776.0,1209.05 2778.0,1209.28 2780.0,1209.74 C2782.0,1210.21 2784.0,1210.90 2786.0,1211.77 C2788.0,1212.63 2790.0,1213.67 2792.0,1214.84 C2794.0,1216.00 2796.0,1217.29 2798.0,1218.65 C2800.0,1220.02 2802.0,1221.48 2804.0,1222.99 C2806.0,1224.50 2808.0,1226.08 2810.0,1227.69 C2812.0,1229.31 2814.0,1230.95 2816.0,1232.62 C2818.0,1234.28 2820.0,1235.95 2822.0,1237.49 C2824.0,1239.02 2826.0,1240.41 2828.0,1241.49 C2830.0,1242.58 2832.0,1243.35 2834.0,1243.65 C2836.0,1243.96 2838.0,1243.77 2840.0,1242.99 C2842.0,1242.21 2844.0,1240.88 2846.0,1239.12 C2848.0,1237.36 2850.0,1235.18 2852.0,1232.71 C2854.0,1230.23 2856.0,1227.44 2858.0,1224.54 C2860.0,1221.65 2862.0,1218.69 2864.0,1216.21 C2866.0,1213.73 2868.0,1211.80 2870.0,1210.56 C2872.0,1209.32 2874.0,1208.70 2876.0,1208.57 C2878.0,1208.45 2880.0,1208.81 2882.0,1209.55 C2884.0,1210.28 2886.0,1211.38 2888.0,1212.72 C2890.0,1214.06 2892.0,1215.63 2894.0,1217.32 C2896.0,1219.01 2898.0,1220.80 2900.0,1222.57 C2902.0,1224.35 2904.0,1226.10 2906.0,1227.70 C2908.0,1229.29 2910.0,1230.74 2912.0,1231.90 C2914.0,1233.06 2916.0,1233.94 2918.0,1234.41 C2920.0,1234.88 2922.0,1234.89 2924.0,1234.49 C2926.0,1234.09 2928.0,1233.29 2930.0,1232.21 C2932.0,1231.14 2934.0,1229.79 2936.0,1228.28 C2938.0,1226.78 2940.0,1225.13 2942.0,1223.44 C2944.0,1221.75 2946.0,1220.04 2948.0,1218.41 C2950.0,1216.78 2952.0,1215.25 2954.0,1213.92 C2956.0,1212.59 2958.0,1211.45 2960.0,1210.59 C2962.0,1209.72 2964.0,1209.14 2966.0,1208.91 C2968.0,1208.69 2970.0,1208.84 2972.0,1209.31 C2974.0,1209.77 2976.0,1210.55 2978.0,1211.55 C2980.0,1212.55 2982.0,1213.77 2984.0,1215.14 C2986.0,1216.50 2988.0,1218.02 2990.0,1219.67 C2992.0,1221.33 2994.0,1223.12 2996.0,1225.03 C2998.0,1226.94 3000.0,1228.97 3002.0,1231.11 C3004.0,1233.24 3006.0,1235.49 3008.0,1237.82 C3010.0,1240.16 3012.0,1242.58 3014.0,1245.09 C3016.0,1247.59 3018.0,1250.17 3020.0,1252.81 C3020.8,1253.83 3021.5,1254.85 3022.3,1255.89" fill="none" stroke="#79ee50" stroke-width="3" stroke-linejoin="round"/><path d="M2023.99,1164.34 C2026.0,1163.62 2028.0,1162.84 2030.0,1162.01 C2032.0,1161.19 2034.0,1160.32 2036.0,1159.43 C2038.0,1158.53 2040.0,1157.62 2042.0,1156.70 C2044.0,1155.78 2046.0,1154.86 2048.0,1153.96 C2050.0,1153.07 2052.0,1152.19 2054.0,1151.35 C2056.0,1150.51 2058.0,1149.72 2060.0,1148.98 C2062.0,1148.25 2064.0,1147.58 2066.0,1146.99 C2068.0,1146.41 2070.0,1145.90 2072.0,1145.51 C2074.0,1145.11 2076.0,1144.82 2078.0,1144.66 C2080.0,1144.49 2082.0,1144.46 2084.0,1144.57 C2086.0,1144.68 2088.0,1144.94 2090.0,1145.37 C2092.0,1145.80 2094.0,1146.41 2096.0,1147.18 C2098.0,1147.94 2100.0,1148.86 2102.0,1149.85 C2104.0,1150.85 2106.0,1151.94 2108.0,1153.05 C2110.0,1154.15 2112.0,1155.29 2114.0,1156.38 C2116.0,1157.48 2118.0,1158.54 2120.0,1159.49 C2122.0,1160.45 2124.0,1161.30 2126.0,1162.03 C2128.0,1162.75 2130.0,1163.38 2132.0,1163.96 C2134.0,1164.54 2136.0,1165.08 2138.0,1165.64 C2140.0,1166.20 2142.0,1166.78 2144.0,1167.44 C2146.0,1168.11 2148.0,1168.87 2150.0,1169.70 C2152.0,1170.52 2154.0,1171.42 2156.0,1172.35 C2158.0,1173.27 2160.0,1174.23 2162.0,1175.19 C2164.0,1176.15 2166.0,1177.10 2168.0,1178.02 C2170.0,1178.94 2172.0,1179.82 2174.0,1180.64 C2176.0,1181.45 2178.0,1182.19 2180.0,1182.83 C2182.0,1183.47 2184.0,1184.00 2186.0,1184.39 C2188.0,1184.78 2190.0,1185.04 2192.0,1185.12 C2194.0,1185.20 2196.0,1185.10 2198.0,1184.80 C2200.0,1184.50 2202.0,1183.99 2204.0,1183.24 C2206.0,1182.49 2208.0,1181.47 2210.0,1180.27 C2212.0,1179.07 2214.0,1177.71 2216.0,1176.30 C2218.0,1174.88 2220.0,1173.43 2222.0,1172.06 C2224.0,1170.69 2226.0,1169.41 2228.0,1168.33 C2230.0,1167.26 2232.0,1166.39 2234.0,1165.87 C2236.0,1165.35 2238.0,1165.17 2240.0,1165.43 C2242.0,1165.70 2244.0,1166.35 2246.0,1167.29 C2248.0,1168.22 2250.0,1169.43 2252.0,1170.79 C2254.0,1172.14 2256.0,1173.65 2258.0,1175.19 C2260.0,1176.72 2262.0,1178.27 2264.0,1179.79 C2266.0,1181.31 2268.0,1182.81 2270.0,1184.28 C2272.0,1185.75 2274.0,1187.19 2276.0,1188.59 C2278.0,1189.99 2280.0,1191.36 2282.0,1192.59 C2284.0,1193.81 2286.0,1194.88 2288.0,1195.64 C2290.0,1196.41 2292.0,1196.87 2294.0,1196.89 C2296.0,1196.91 2298.0,1196.46 2300.0,1195.65 C2302.0,1194.85 2304.0,1193.68 2306.0,1192.29 C2308.0,1190.89 2310.0,1189.26 2312.0,1187.52 C2314.0,1185.78 2316.0,1183.92 2318.0,1182.08 C2320.0,1180.24 2322.0,1178.40 2324.0,1176.70 C2326.0,1175.00 2328.0,1173.43 2330.0,1172.11 C2332.0,1170.80 2334.0,1169.72 2336.0,1168.88 C2338.0,1168.03 2340.0,1167.42 2342.0,1167.02 C2344.0,1166.63 2346.0,1166.44 2348.0,1166.47 C2350.0,1166.49 2352.0,1166.71 2354.0,1167.12 C2356.0,1167.53 2358.0,1168.13 2360.0,1168.90 C2362.0,1169.68 2364.0,1170.63 2366.0,1171.73 C2368.0,1172.84 2370.0,1174.08 2372.0,1175.41 C2374.0,1176.73 2376.0,1178.12 2378.0,1179.51 C2380.0,1180.90 2382.0,1182.29 2384.0,1183.61 C2386.0,1184.92 2388.0,1186.16 2390.0,1187.25 C2392.0,1188.34 2394.0,1189.28 2396.0,1190.00 C2398.0,1190.72 2400.0,1191.22 2402.0,1191.43 C2404.0,1191.63 2406.0,1191.52 2408.0,1191.11 C2410.0,1190.69 2412.0,1189.98 2414.0,1188.97 C2416.0,1187.96 2418.0,1186.67 2420.0,1185.11 C2422.0,1183.54 2424.0,1181.68 2426.0,1179.76 C2428.0,1177.84 2430.0,1175.87 2432.0,1174.12 C2434.0,1172.38 2436.0,1170.90 2438.0,1169.75 C2440.0,1168.60 2442.0,1167.75 2444.0,1167.17 C2446.0,1166.59 2448.0,1166.27 2450.0,1166.19 C2452.0,1166.11 2454.0,1166.26 2456.0,1166.61 C2458.0,1166.96 2460.0,1167.51 2462.0,1168.22 C2464.0,1168.94 2466.0,1169.82 2468.0,1170.82 C2470.0,1171.82 2472.0,1172.94 2474.0,1174.09 C2476.0,1175.25 2478.0,1176.44 2480.0,1177.61 C2482.0,1178.78 2484.0,1179.91 2486.0,1180.95 C2488.0,1181.98 2490.0,1182.92 2492.0,1183.68 C2494.0,1184.44 2496.0,1185.03 2498.0,1185.37 C2500.0,1185.72 2502.0,1185.80 2504.0,1185.62 C2506.0,1185.45 2508.0,1185.03 2510.0,1184.43 C2512.0,1183.84 2514.0,1183.08 2516.0,1182.22 C2518.0,1181.36 2520.0,1180.40 2522.0,1179.41 C2524.0,1178.41 2526.0,1177.37 2528.0,1176.33 C2530.0,1175.29 2532.0,1174.24 2534.0,1173.24 C2536.0,1172.23 2538.0,1171.27 2540.0,1170.38 C2542.0,1169.50 2544.0,1168.70 2546.0,1168.02 C2548.0,1167.34 2550.0,1166.79 2552.0,1166.40 C2554.0,1166.01 2556.0,1165.80 2558.0,1165.77 C2560.0,1165.75 2562.0,1165.90 2564.0,1166.18 C2566.0,1166.47 2568.0,1166.89 2570.0,1167.40 C2572.0,1167.91 2574.0,1168.51 2576.0,1169.15 C2578.0,1169.80 2580.0,1170.49 2582.0,1171.18 C2584.0,1171.88 2586.0,1172.57 2588.0,1173.23 C2590.0,1173.88 2592.0,1174.49 2594.0,1175.02 C2596.0,1175.55 2598.0,1176.01 2600.0,1176.38 C2602.0,1176.76 2604.0,1177.06 2606.0,1177.27 C2608.0,1177.48 2610.0,1177.62 2612.0,1177.66 C2614.0,1177.71 2616.0,1177.67 2618.0,1177.55 C2620.0,1177.42 2622.0,1177.21 2624.0,1176.90 C2626.0,1176.60 2628.0,1176.20 2630.0,1175.71 C2632.0,1175.22 2634.0,1174.62 2636.0,1173.96 C2638.0,1173.30 2640.0,1172.58 2642.0,1171.84 C2644.0,1171.10 2646.0,1170.34 2648.0,1169.61 C2650.0,1168.88 2652.0,1168.18 2654.0,1167.56 C2656.0,1166.93 2658.0,1166.38 2660.0,1165.94 C2662.0,1165.51 2664.0,1165.20 2666.0,1165.05 C2668.0,1164.90 2670.0,1164.92 2672.0,1165.15 C2674.0,1165.38 2676.0,1165.82 2678.0,1166.50 C2680.0,1167.18 2682.0,1168.09 2684.0,1169.26 C2686.0,1170.42 2688.0,1171.85 2690.0,1173.45 C2692.0,1175.06 2694.0,1176.81 2696.0,1178.55 C2698.0,1180.29 2700.0,1182.00 2702.0,1183.57 C2704.0,1185.14 2706.0,1186.57 2708.0,1187.77 C2710.0,1188.97 2712.0,1189.95 2714.0,1190.62 C2716.0,1191.28 2718.0,1191.62 2720.0,1191.59 C2722.0,1191.56 2724.0,1191.20 2726.0,1190.58 C2728.0,1189.96 2730.0,1189.08 2732.0,1188.04 C2734.0,1187.00 2736.0,1185.79 2738.0,1184.51 C2740.0,1183.22 2742.0,1181.84 2744.0,1180.45 C2746.0,1179.06 2748.0,1177.65 2750.0,1176.28 C2752.0,1174.90 2754.0,1173.58 2756.0,1172.35 C2758.0,1171.12 2760.0,1170.00 2762.0,1169.05 C2764.0,1168.09 2766.0,1167.30 2768.0,1166.74 C2770.0,1166.17 2772.0,1165.84 2774.0,1165.79 C2776.0,1165.75 2778.0,1165.98 2780.0,1166.44 C2782.0,1166.91 2784.0,1167.60 2786.0,1168.47 C2788.0,1169.33 2790.0,1170.37 2792.0,1171.54 C2794.0,1172.70 2796.0,1173.99 2798.0,1175.35 C2800.0,1176.72 2802.0,1178.18 2804.0,1179.69 C2806.0,1181.20 2808.0,1182.78 2810.0,1184.39 C2812.0,1186.01 2814.0,1187.65 2816.0,1189.32 C2818.0,1190.98 2820.0,1192.65 2822.0,1194.19 C2824.0,1195.72 2826.0,1197.11 2828.0,1198.19 C2830.0,1199.28 2832.0,1200.05 2834.0,1200.35 C2836.0,1200.66 2838.0,1200.47 2840.0,1199.69 C2842.0,1198.91 2844.0,1197.58 2846.0,1195.82 C2848.0,1194.06 2850.0,1191.88 2852.0,1189.41 C2854.0,1186.93 2856.0,1184.14 2858.0,1181.24 C2860.0,1178.35 2862.0,1175.39 2864.0,1172.91 C2866.0,1170.43 2868.0,1168.50 2870.0,1167.26 C2872.0,1166.02 2874.0,1165.40 2876.0,1165.27 C2878.0,1165.15 2880.0,1165.51 2882.0,1166.25 C2884.0,1166.98 2886.0,1168.08 2888.0,1169.42 C2890.0,1170.76 2892.0,1172.33 2894.0,1174.02 C2896.0,1175.71 2898.0,1177.50 2900.0,1179.27 C2902.0,1181.05 2904.0,1182.80 2906.0,1184.40 C2908.0,1185.99 2910.0,1187.44 2912.0,1188.60 C2914.0,1189.76 2916.0,1190.64 2918.0,1191.11 C2920.0,1191.58 2922.0,1191.59 2924.0,1191.19 C2926.0,1190.79 2928.0,1189.99 2930.0,1188.91 C2932.0,1187.84 2934.0,1186.49 2936.0,1184.98 C2938.0,1183.48 2940.0,1181.83 2942.0,1180.14 C2944.0,1178.45 2946.0,1176.74 2948.0,1175.11 C2950.0,1173.48 2952.0,1171.95 2954.0,1170.62 C2956.0,1169.29 2958.0,1168.15 2960.0,1167.29 C2962.0,1166.42 2964.0,1165.84 2966.0,1165.61 C2968.0,1165.39 2970.0,1165.54 2972.0,1166.01 C2974.0,1166.47 2976.0,1167.25 2978.0,1168.25 C2980.0,1169.25 2982.0,1170.47 2984.0,1171.84 C2986.0,1173.20 2988.0,1174.72 2990.0,1176.37 C2992.0,1178.03 2994.0,1179.82 2996.0,1181.73 C2998.0,1183.64 3000.0,1185.67 3002.0,1187.81 C3004.0,1189.94 3006.0,1192.19 3008.0,1194.52 C3010.0,1196.86 3012.0,1199.28 3014.0,1201.79 C3016.0,1204.29 3018.0,1206.87 3020.0,1209.51 C3020.8,1210.53 3021.5,1211.55 3022.3,1212.59" fill="none" stroke="#f8f050" stroke-width="3" stroke-linejoin="round"/><line x1="1441.7" y1="1365" x2="1441.7" y2="1106.5" stroke="#4a4f78" stroke-width="1.5"/><line x1="1441.7" y1="1365" x2="1681.6" y2="1311.9" stroke="#4a4f78" stroke-width="1.5"/><line x1="1441.7" y1="1365" x2="1601.4" y2="1598.3" stroke="#4a4f78" stroke-width="1.5"/><line x1="1441.7" y1="1365" x2="1281.8" y2="1599.4" stroke="#4a4f78" stroke-width="1.5"/><line x1="1441.7" y1="1365" x2="1200.8" y2="1313.4" stroke="#4a4f78" stroke-width="1.5"/><polygon points="1435.5,1218.2 1674.3,1312.3 1561.9,1557.5 1312.9,1557.5 1295,1334.3" fill="none" stroke="#6a9fd4" stroke-width="4" stroke-linejoin="miter"/><polygon points="1441.7,1315.4 1486.4,1360.4 1471.7,1428.2 1409,1428.2 1393,1360.1" fill="none" stroke="#fff" stroke-width="1.5"/><polygon points="1441.7,1260.0 1536.2,1344.5 1505.5,1477.4 1375.6,1477.4 1343.6,1345.2" fill="none" stroke="#fff" stroke-width="1.5"/><polygon points="1441.7,1211.4 1584.5,1333.1 1538.1,1518.5 1345.7,1518.5 1296.5,1334.5" fill="none" stroke="#fff" stroke-width="1.5"/><polygon points="1441.7,1159.4 1633.9,1322.7 1570.6,1574.1 1314.4,1574.1 1249.1,1324.4" fill="none" stroke="#fff" stroke-width="1.5"/><polygon points="1441.7,1106.5 1681.6,1311.9 1602.8,1626.4 1282.8,1626.4 1200.8,1313.4" fill="none" stroke="#fff" stroke-width="1.5"/></svg>
<div class="a" style="right:1650.2px;top:1092.2px;font-size:19px;line-height:19px;font-weight:bold;color:#fff">100</div>
<div class="a" style="right:1650.2px;top:1142.9px;font-size:19px;line-height:19px;font-weight:bold;color:#fff">80</div>
<div class="a" style="right:1650.2px;top:1196.1px;font-size:19px;line-height:19px;font-weight:bold;color:#fff">60</div>
<div class="a" style="right:1650.2px;top:1241.7px;font-size:19px;line-height:19px;font-weight:bold;color:#fff">40</div>
<div class="a" style="right:1650.2px;top:1295.9px;font-size:19px;line-height:19px;font-weight:bold;color:#fff">20</div>
<div class="a" style="right:1650.2px;top:1347.5px;font-size:19px;line-height:19px;font-weight:bold;color:#fff">0</div>
<div class="a" style="left:1381.8px;top:1053.6px;font-size:22px;line-height:22px;color:#fff;font-weight:500;">内部环境</div>
<div class="a" style="left:1703.9px;top:1288.2px;font-size:25.5px;line-height:25.5px;color:#fff;font-weight:500;">发电机</div>
<div class="a" style="left:1118.5px;top:1256.1px;font-size:22px;line-height:22px;color:#fff;font-weight:500;">外部环境</div>
<div class="a" style="left:1142.6px;top:1605.8px;font-size:25.5px;line-height:25.5px;color:#fff;font-weight:500;">变桨系统</div>
<div class="a" style="left:1610.9px;top:1622.5px;font-size:22px;line-height:22px;color:#fff;font-weight:500;">其它</div>
<svg class="a" style="left:912px;top:993px" width="466" height="56">
<path d="M154,1.5 H6.5 a5,5 0 0 0 -5,5 V48.5 a5,5 0 0 0 5,5 H154" fill="none" stroke="#5d7ca6" stroke-width="1.5"/>
<path d="M154,1.5 H457.5 a5,5 0 0 1 5,5 V48.5 a5,5 0 0 1 -5,5 H154 Z M309,1.5 V53.5" fill="none" stroke="#c9d3e3" stroke-width="1.8"/>
</svg>
<div class="a" style="left:938.5px;top:1009.7px;font-size:22px;line-height:22px;color:#6a9fd4;font-weight:500;">1号风电场</div>
<div class="a" style="left:1090.9px;top:1009.7px;font-size:22px;line-height:22px;color:#fff;font-weight:500;">2号风电场</div>
<div class="a" style="left:1246.4px;top:1009.7px;font-size:22px;line-height:22px;color:#fff;font-weight:500;">3号光伏场</div>
</body></html>
